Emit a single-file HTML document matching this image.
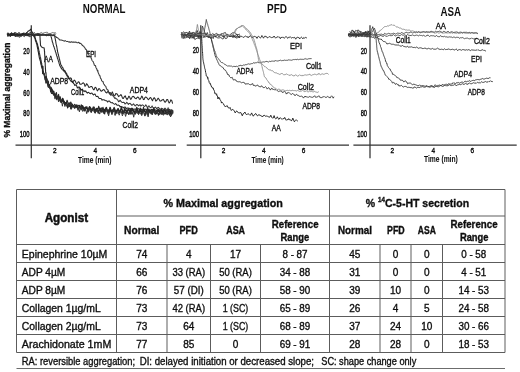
<!DOCTYPE html>
<html><head><meta charset="utf-8"><title>Platelet aggregation</title>
<style>
html,body{margin:0;padding:0;background:#fff;width:520px;height:372px;overflow:hidden}
svg{display:block;will-change:transform}
text{font-family:"Liberation Sans",sans-serif}
</style></head><body>
<svg width="520" height="372" viewBox="0 0 520 372" fill="#111">
<defs><filter id="soft" x="0" y="0" width="100%" height="100%"><feGaussianBlur stdDeviation="0.3"/></filter></defs>
<rect width="520" height="372" fill="#fff"/>
<g filter="url(#soft)">
<g id="charts">
<line x1="31.3" y1="25.3" x2="31.3" y2="158.3" stroke="#333" stroke-width="1.25"/>
<line x1="15.5" y1="145.1" x2="176.0" y2="145.1" stroke="#333" stroke-width="1.25"/>
<text x="29.60" y="54.20" font-size="8.3" stroke="#111" stroke-width="0.45" text-anchor="end" textLength="6.30" lengthAdjust="spacingAndGlyphs">20</text>
<text x="29.60" y="74.80" font-size="8.3" stroke="#111" stroke-width="0.45" text-anchor="end" textLength="6.30" lengthAdjust="spacingAndGlyphs">40</text>
<text x="29.60" y="95.50" font-size="8.3" stroke="#111" stroke-width="0.45" text-anchor="end" textLength="6.30" lengthAdjust="spacingAndGlyphs">60</text>
<text x="29.60" y="116.00" font-size="8.3" stroke="#111" stroke-width="0.45" text-anchor="end" textLength="6.30" lengthAdjust="spacingAndGlyphs">80</text>
<text x="29.60" y="137.10" font-size="8.3" stroke="#111" stroke-width="0.45" text-anchor="end" textLength="9.80" lengthAdjust="spacingAndGlyphs">100</text>
<text x="54.70" y="153.30" font-size="7.8" stroke="#111" stroke-width="0.4" text-anchor="middle" textLength="3.60" lengthAdjust="spacingAndGlyphs">2</text>
<text x="95.30" y="153.30" font-size="7.8" stroke="#111" stroke-width="0.4" text-anchor="middle" textLength="3.60" lengthAdjust="spacingAndGlyphs">4</text>
<text x="134.90" y="153.30" font-size="7.8" stroke="#111" stroke-width="0.4" text-anchor="middle" textLength="3.60" lengthAdjust="spacingAndGlyphs">6</text>
<text x="78.00" y="162.60" font-size="8.2" stroke="#111" stroke-width="0.05" font-weight="bold" textLength="33.40" lengthAdjust="spacingAndGlyphs">Time (min)</text>
<text x="82.80" y="13.20" font-size="12.9" font-weight="bold" textLength="42.70" lengthAdjust="spacingAndGlyphs">NORMAL</text>
<text x="9.90" y="137.60" font-size="9.1" stroke="#111" stroke-width="0.35" font-weight="bold" textLength="95.00" lengthAdjust="spacingAndGlyphs" transform="rotate(-90 9.90 137.60)">% Maximal aggregation</text>
<line x1="200.8" y1="25.3" x2="200.8" y2="158.3" stroke="#333" stroke-width="1.25"/>
<line x1="186.7" y1="145.1" x2="349.0" y2="145.1" stroke="#333" stroke-width="1.25"/>
<text x="199.00" y="53.00" font-size="8.3" stroke="#111" stroke-width="0.45" text-anchor="end" textLength="6.30" lengthAdjust="spacingAndGlyphs">20</text>
<text x="199.00" y="73.90" font-size="8.3" stroke="#111" stroke-width="0.45" text-anchor="end" textLength="6.30" lengthAdjust="spacingAndGlyphs">40</text>
<text x="199.00" y="94.80" font-size="8.3" stroke="#111" stroke-width="0.45" text-anchor="end" textLength="6.30" lengthAdjust="spacingAndGlyphs">60</text>
<text x="199.00" y="115.80" font-size="8.3" stroke="#111" stroke-width="0.45" text-anchor="end" textLength="6.30" lengthAdjust="spacingAndGlyphs">80</text>
<text x="199.00" y="136.80" font-size="8.3" stroke="#111" stroke-width="0.45" text-anchor="end" textLength="9.80" lengthAdjust="spacingAndGlyphs">100</text>
<text x="223.50" y="153.30" font-size="7.8" stroke="#111" stroke-width="0.4" text-anchor="middle" textLength="3.60" lengthAdjust="spacingAndGlyphs">2</text>
<text x="263.80" y="153.30" font-size="7.8" stroke="#111" stroke-width="0.4" text-anchor="middle" textLength="3.60" lengthAdjust="spacingAndGlyphs">4</text>
<text x="303.50" y="153.30" font-size="7.8" stroke="#111" stroke-width="0.4" text-anchor="middle" textLength="3.60" lengthAdjust="spacingAndGlyphs">6</text>
<text x="251.40" y="162.60" font-size="8.2" stroke="#111" stroke-width="0.05" font-weight="bold" textLength="32.30" lengthAdjust="spacingAndGlyphs">Time (min)</text>
<text x="267.10" y="13.00" font-size="12.6" font-weight="bold" textLength="19.90" lengthAdjust="spacingAndGlyphs">PFD</text>
<line x1="370.0" y1="25.3" x2="370.0" y2="158.3" stroke="#333" stroke-width="1.25"/>
<line x1="353.4" y1="145.1" x2="516.7" y2="145.1" stroke="#333" stroke-width="1.25"/>
<text x="367.00" y="53.50" font-size="8.3" stroke="#111" stroke-width="0.45" text-anchor="end" textLength="6.30" lengthAdjust="spacingAndGlyphs">20</text>
<text x="367.00" y="74.20" font-size="8.3" stroke="#111" stroke-width="0.45" text-anchor="end" textLength="6.30" lengthAdjust="spacingAndGlyphs">40</text>
<text x="367.00" y="94.80" font-size="8.3" stroke="#111" stroke-width="0.45" text-anchor="end" textLength="6.30" lengthAdjust="spacingAndGlyphs">60</text>
<text x="367.00" y="115.80" font-size="8.3" stroke="#111" stroke-width="0.45" text-anchor="end" textLength="6.30" lengthAdjust="spacingAndGlyphs">80</text>
<text x="367.00" y="136.80" font-size="8.3" stroke="#111" stroke-width="0.45" text-anchor="end" textLength="9.80" lengthAdjust="spacingAndGlyphs">100</text>
<text x="392.20" y="153.30" font-size="7.8" stroke="#111" stroke-width="0.4" text-anchor="middle" textLength="3.60" lengthAdjust="spacingAndGlyphs">2</text>
<text x="433.40" y="153.30" font-size="7.8" stroke="#111" stroke-width="0.4" text-anchor="middle" textLength="3.60" lengthAdjust="spacingAndGlyphs">4</text>
<text x="472.40" y="153.30" font-size="7.8" stroke="#111" stroke-width="0.4" text-anchor="middle" textLength="3.60" lengthAdjust="spacingAndGlyphs">6</text>
<text x="424.00" y="162.30" font-size="8.2" stroke="#111" stroke-width="0.05" font-weight="bold" textLength="33.80" lengthAdjust="spacingAndGlyphs">Time (min)</text>
<text x="440.40" y="15.60" font-size="12.3" font-weight="bold" textLength="20.60" lengthAdjust="spacingAndGlyphs">ASA</text>
<text x="86.10" y="56.50" font-size="8.2" stroke="#111" stroke-width="0.35" textLength="10.00" lengthAdjust="spacingAndGlyphs">EPI</text>
<text x="44.10" y="62.40" font-size="8.2" stroke="#111" stroke-width="0.35" textLength="8.90" lengthAdjust="spacingAndGlyphs">AA</text>
<text x="50.30" y="83.70" font-size="8.2" stroke="#111" stroke-width="0.35" textLength="17.80" lengthAdjust="spacingAndGlyphs">ADP8</text>
<text x="71.00" y="95.20" font-size="8.2" stroke="#111" stroke-width="0.35" textLength="13.30" lengthAdjust="spacingAndGlyphs">Coll1</text>
<text x="129.80" y="92.60" font-size="8.2" stroke="#111" stroke-width="0.35" textLength="18.20" lengthAdjust="spacingAndGlyphs">ADP4</text>
<text x="122.60" y="128.40" font-size="8.2" stroke="#111" stroke-width="0.35" textLength="15.40" lengthAdjust="spacingAndGlyphs">Coll2</text>
<text x="290.00" y="49.00" font-size="8.2" stroke="#111" stroke-width="0.35" textLength="12.00" lengthAdjust="spacingAndGlyphs">EPI</text>
<text x="306.00" y="68.50" font-size="8.2" stroke="#111" stroke-width="0.35" textLength="16.00" lengthAdjust="spacingAndGlyphs">Coll1</text>
<text x="236.50" y="74.00" font-size="8.2" stroke="#111" stroke-width="0.35" textLength="16.90" lengthAdjust="spacingAndGlyphs">ADP4</text>
<text x="297.70" y="90.20" font-size="8.2" stroke="#111" stroke-width="0.35" textLength="16.30" lengthAdjust="spacingAndGlyphs">Coll2</text>
<text x="302.50" y="109.40" font-size="8.2" stroke="#111" stroke-width="0.35" textLength="17.50" lengthAdjust="spacingAndGlyphs">ADP8</text>
<text x="271.70" y="131.00" font-size="8.2" stroke="#111" stroke-width="0.35" textLength="9.10" lengthAdjust="spacingAndGlyphs">AA</text>
<text x="435.70" y="28.70" font-size="8.2" stroke="#111" stroke-width="0.35" textLength="10.30" lengthAdjust="spacingAndGlyphs">AA</text>
<text x="473.90" y="43.50" font-size="8.2" stroke="#111" stroke-width="0.35" textLength="15.90" lengthAdjust="spacingAndGlyphs">Coll2</text>
<text x="395.70" y="43.00" font-size="8.2" stroke="#111" stroke-width="0.35" textLength="15.10" lengthAdjust="spacingAndGlyphs">Coll1</text>
<text x="471.00" y="61.80" font-size="8.2" stroke="#111" stroke-width="0.35" textLength="11.00" lengthAdjust="spacingAndGlyphs">EPI</text>
<text x="454.00" y="76.70" font-size="8.2" stroke="#111" stroke-width="0.35" textLength="18.00" lengthAdjust="spacingAndGlyphs">ADP4</text>
<text x="467.70" y="95.00" font-size="8.2" stroke="#111" stroke-width="0.35" textLength="17.10" lengthAdjust="spacingAndGlyphs">ADP8</text>
<polyline points="7.9,32.4 9.4,34.8 10.6,33.9 11.6,32.5 12.6,34.0 13.6,34.9 14.4,32.4 15.3,34.3 16.4,33.3 17.5,33.8 18.6,32.5 19.7,32.8 20.6,34.4 22.0,33.9 23.5,33.1 24.6,33.2 25.7,33.9 26.5,33.3 27.7,32.9 28.6,34.1 29.4,33.6 30.3,31.9 31.0,33.4" fill="none" stroke="#303030" stroke-width="0.9" stroke-linejoin="round"/>
<polyline points="7.1,33.1 8.4,34.9 9.5,34.7 10.7,34.2 12.2,33.6 13.7,34.8 15.1,32.6 15.9,32.7 17.0,35.6 18.5,35.3 19.4,34.9 20.8,35.2 22.3,33.0 23.2,35.1 24.6,35.5 25.7,35.4 26.7,35.7 28.2,33.7 29.0,34.4 30.4,33.7 31.0,34.2" fill="none" stroke="#303030" stroke-width="0.9" stroke-linejoin="round"/>
<polyline points="7.4,36.0 8.3,36.4 9.3,34.1 10.2,36.5 11.7,34.4 12.6,35.5 14.1,33.4 15.4,36.1 16.6,35.2 18.0,34.2 19.0,35.5 20.3,35.1 21.3,36.4 22.4,35.6 23.9,34.7 24.7,34.1 25.6,33.9 26.5,34.5 27.6,34.8 28.9,35.6 30.2,34.6 31.0,35.0" fill="none" stroke="#303030" stroke-width="0.9" stroke-linejoin="round"/>
<polyline points="7.8,34.6 9.1,35.2 10.4,36.6 11.4,35.6 12.6,35.2 13.4,34.4 15.0,36.6 16.1,36.3 17.2,36.5 18.7,36.7 19.9,37.3 21.4,34.4 22.6,35.6 23.6,36.2 24.5,36.6 26.0,34.4 27.3,35.1 28.6,36.4 30.2,36.8 31.0,35.8" fill="none" stroke="#303030" stroke-width="0.9" stroke-linejoin="round"/>
<polyline points="32.1,34.4 32.9,34.5 34.3,32.3 35.8,34.1 36.7,34.5 37.8,33.3 39.1,33.9 40.5,32.9 41.7,32.5 42.7,33.4 43.6,33.0 45.1,32.6 46.2,32.3 47.6,32.4 48.5,34.0 49.7,33.5 51.0,33.4 52.1,32.6 53.0,32.7 54.0,33.0 55.5,32.7 56.0,33.4" fill="none" stroke="#555" stroke-width="0.8" stroke-linejoin="round"/>
<polyline points="31.4,33.7 32.9,35.7 34.3,35.7 35.5,34.5 36.6,35.0 37.6,34.7 38.7,35.0 40.2,35.0 41.1,34.8 42.5,34.7 43.4,33.6 44.6,35.1 45.8,35.1 47.0,35.4 48.0,35.4 49.4,33.7 50.4,34.1 51.8,34.9 52.7,35.2 53.7,35.5 54.7,33.6 55.8,34.5 56.0,34.6" fill="none" stroke="#555" stroke-width="0.8" stroke-linejoin="round"/>
<polyline points="181.2,33.0 182.2,33.4 183.4,31.8 184.7,32.7 185.6,32.5 186.9,32.5 188.4,33.5 189.5,31.1 190.4,33.9 191.7,32.9 192.9,32.4 193.9,32.5 194.8,33.0 196.1,33.2 197.1,30.4 198.1,33.3 199.4,33.6 200.5,31.9 201.0,32.4" fill="none" stroke="#303030" stroke-width="0.9" stroke-linejoin="round"/>
<polyline points="181.3,32.3 182.5,34.3 183.7,34.0 184.8,34.5 186.3,35.3 187.6,33.6 189.2,33.4 190.5,35.5 191.8,33.2 193.2,34.2 194.8,34.3 196.0,36.0 197.2,33.2 198.8,35.8 199.7,31.6 201.0,33.7" fill="none" stroke="#303030" stroke-width="0.9" stroke-linejoin="round"/>
<polyline points="182.3,34.4 183.3,35.9 184.9,33.6 186.0,35.8 187.0,34.6 187.9,34.9 188.9,33.0 190.0,33.3 190.9,33.3 192.1,34.1 193.4,34.6 194.4,33.5 195.5,36.2 196.4,34.8 197.9,36.6 199.0,36.6 200.4,33.7 201.0,35.0" fill="none" stroke="#303030" stroke-width="0.9" stroke-linejoin="round"/>
<polyline points="181.3,37.7 182.4,37.9 183.9,38.3 185.1,33.9 186.1,35.0 187.5,37.3 189.0,37.3 190.6,37.0 191.7,37.9 192.8,37.6 194.1,38.1 195.0,34.8 196.6,34.6 197.7,36.8 198.9,38.1 200.5,35.5 201.0,36.3" fill="none" stroke="#303030" stroke-width="0.9" stroke-linejoin="round"/>
<polyline points="182.4,37.4 183.4,35.9 184.2,38.0 185.2,37.9 186.7,37.5 188.3,35.5 189.7,38.8 191.3,35.3 192.5,37.9 193.8,37.5 194.8,39.5 196.3,38.6 197.9,37.9 198.7,38.5 199.6,38.8 200.9,36.2 201.0,37.6" fill="none" stroke="#303030" stroke-width="0.9" stroke-linejoin="round"/>
<polyline points="194.0,35.0 194.4,34.2 194.8,33.3 195.2,32.5 195.7,31.7 196.1,30.8 196.5,30.0 196.7,29.1 196.8,28.2 196.9,27.2 197.1,26.3 197.2,25.4 197.4,24.5 197.6,25.3 197.7,26.1 197.9,26.9 198.0,27.6 198.2,28.4 198.3,29.2 198.5,30.0 198.8,30.8 199.0,31.7 199.2,32.5 199.5,33.3 199.8,34.2 200.0,35.0" fill="none" stroke="#777" stroke-width="0.8" stroke-linejoin="round"/>
<polyline points="203.4,35.5 204.8,33.2 205.9,35.0 207.3,32.5 208.3,35.6 209.2,34.8 210.2,34.7 211.7,34.5 212.8,33.6 214.1,34.7 215.3,34.1 216.5,33.3 217.4,34.4 218.3,34.6 219.7,35.4 220.8,33.9 222.3,33.7 223.9,33.1 225.4,32.5 226.7,35.3 227.9,34.7 229.5,36.0 230.4,34.3 231.2,33.8 232.1,33.0 233.4,32.7 234.4,32.4 235.8,33.3 236.7,34.6 238.1,34.7 239.3,34.3 240.0,34.2" fill="none" stroke="#3a3a3a" stroke-width="0.9" stroke-linejoin="round"/>
<polyline points="202.5,37.0 203.8,37.1 205.3,37.0 206.5,35.9 207.9,36.1 208.8,37.3 209.7,35.7 210.9,34.3 212.1,36.1 213.6,36.2 214.6,36.0 216.2,36.3 217.7,34.0 219.0,34.8 220.0,35.2 220.9,34.3 221.9,34.8 222.9,36.9 223.7,34.7 224.6,35.8 225.6,35.9 226.6,34.7 227.7,34.3 229.3,36.0 230.4,36.0 231.9,35.8 233.0,34.8 234.1,36.8 235.4,35.0 237.0,34.5 238.0,36.8 239.6,35.7 240.0,35.8" fill="none" stroke="#3a3a3a" stroke-width="0.9" stroke-linejoin="round"/>
<polyline points="202.8,37.1 203.7,36.9 205.2,35.7 206.1,36.2 207.6,36.7 208.9,38.0 209.7,37.2 210.6,38.5 211.8,36.9 213.2,38.6 214.1,35.9 215.2,36.7 216.3,37.1 217.9,38.0 219.5,37.8 220.4,37.6 221.4,37.7 222.3,39.0 223.3,38.8 224.3,36.3 225.3,38.6 226.8,38.3 228.0,36.1 229.0,35.7 230.6,36.1 231.9,35.6 233.0,37.8 233.9,35.9 235.4,36.6 236.2,38.1 237.8,37.6 238.6,37.1 239.9,36.5 240.0,37.4" fill="none" stroke="#3a3a3a" stroke-width="0.9" stroke-linejoin="round"/>
<polyline points="349.5,31.6 350.8,32.6 351.8,30.3 353.1,30.4 354.2,33.2 355.7,30.4 356.6,30.8 358.0,30.1 359.0,30.4 359.9,31.9 360.9,31.5 362.2,32.6 363.4,32.8 364.6,33.0 365.6,31.3 366.9,33.4 368.2,31.7 369.2,31.0 370.0,31.8" fill="none" stroke="#303030" stroke-width="0.9" stroke-linejoin="round"/>
<polyline points="349.5,34.2 351.0,32.9 352.4,32.1 353.5,31.5 354.7,31.9 355.6,34.3 356.4,33.9 357.8,31.3 359.0,34.6 360.6,33.0 362.0,33.6 363.0,33.0 364.3,32.4 365.8,32.6 367.2,31.2 368.3,31.2 369.6,34.1 370.0,32.8" fill="none" stroke="#303030" stroke-width="0.9" stroke-linejoin="round"/>
<polyline points="348.8,34.2 349.8,33.4 351.1,34.3 352.2,33.7 353.3,34.0 354.6,33.2 356.0,35.1 357.2,35.5 358.2,35.3 359.2,33.3 360.6,32.1 361.9,35.1 363.5,34.5 364.6,33.2 365.9,32.2 366.7,35.2 368.0,32.6 369.1,33.0 370.0,33.8" fill="none" stroke="#303030" stroke-width="0.9" stroke-linejoin="round"/>
<polyline points="348.4,35.6 349.8,34.1 350.8,34.9 351.9,35.1 353.0,35.9 354.1,33.5 355.6,36.2 356.9,35.0 358.4,36.4 359.2,34.8 360.0,34.2 361.0,34.7 362.4,36.1 363.4,33.0 365.0,35.8 366.2,33.4 367.1,36.4 368.3,36.1 369.7,35.7 370.0,34.8" fill="none" stroke="#303030" stroke-width="0.9" stroke-linejoin="round"/>
<polyline points="348.4,34.9 349.5,36.8 351.0,36.7 352.2,35.7 353.2,36.4 354.5,35.9 355.9,37.5 357.4,34.4 358.5,36.2 359.8,35.0 361.4,35.7 362.8,34.2 363.8,34.1 365.2,35.9 366.8,36.2 367.9,35.3 369.0,34.7 369.8,36.3 370.0,35.8" fill="none" stroke="#303030" stroke-width="0.9" stroke-linejoin="round"/>
<polyline points="7.0,34.0 7.8,35.0 8.6,34.9 9.4,34.2 10.2,34.6 11.1,34.5 11.9,34.8 12.7,35.0 13.5,34.1 14.3,34.0 15.1,35.2 15.9,34.6 16.8,35.1 17.6,34.0 18.4,34.7 19.2,35.1 20.0,34.4 20.9,35.3 21.7,35.0 22.6,33.6 23.4,33.4 24.3,34.0 25.1,34.4 26.0,33.4 26.7,32.6 27.3,32.3 28.0,31.2 28.6,30.9 29.3,30.7 29.9,30.2 30.6,29.2 31.0,29.9 31.4,30.6 31.8,31.6 32.2,32.1 32.6,32.4 33.0,34.3 33.5,34.3 33.8,35.2 34.0,35.3 34.3,37.2 34.5,37.8 34.8,37.6 35.1,38.7 35.3,40.0 35.6,40.8 35.9,41.9 36.1,41.9 36.4,43.3 36.6,43.9 36.9,44.1 37.0,45.3 37.2,46.5 37.4,47.3 37.5,47.6 37.6,48.6 37.8,48.6 37.9,49.7 38.1,51.3 38.2,51.5 38.4,52.0 38.5,53.3 38.7,54.4 38.8,55.1 39.0,55.5 39.1,56.4 39.3,57.3 39.5,58.5 39.7,58.9 39.9,59.6 40.1,60.5 40.3,60.7 40.5,61.5 40.7,63.2 40.9,64.4 41.1,63.5 41.3,65.4 41.5,66.6 41.7,67.5 41.9,67.8 42.1,68.7 42.4,69.0 42.6,73.7 42.8,71.3 43.0,72.0 43.2,72.4 43.4,73.1 43.7,74.5 43.9,74.3 44.1,73.8 44.4,76.4 44.8,77.3 45.1,77.2 45.4,78.2 45.8,83.0 46.1,80.7 46.4,81.6 46.7,80.6 47.1,83.1 47.4,83.0 47.8,85.2 48.2,85.0 48.6,85.4 49.0,86.4 49.4,85.4 49.8,87.9 50.2,88.2 50.6,92.0 51.1,90.6 51.6,90.1 52.0,89.0 52.5,92.3 53.0,92.4 53.5,95.2 54.0,94.3 54.4,94.8 54.9,94.0 55.4,96.7 56.0,96.2 56.7,99.6 57.4,97.4 58.0,97.3 58.6,94.4 59.3,99.1 59.9,100.0 60.6,102.1 61.2,100.3 61.9,101.2 62.6,98.3 63.3,101.5 64.0,101.9 64.7,104.4 65.5,102.7 66.2,102.4 66.9,104.0 67.6,108.0 68.3,104.8 69.1,102.6 69.9,104.4 70.7,108.7 71.5,105.6 72.3,104.0 73.2,106.5 74.0,106.9 74.8,107.0 75.6,106.1 76.4,107.5 77.2,105.1 78.0,107.7 78.9,108.4 79.7,107.2 80.5,107.7 81.3,104.7 82.1,108.4 83.0,109.3 83.8,108.7 84.6,108.0 85.4,107.1 86.3,108.2 87.1,108.2 87.9,112.0 88.7,108.7 89.5,106.5 90.4,108.6 91.2,112.5 92.0,109.4 92.8,108.9 93.6,109.2 94.4,109.2 95.2,113.0 96.0,109.9 96.8,108.3 97.6,109.1 98.4,113.0 99.2,110.0 100.0,108.0 100.8,109.6 101.6,112.1 102.4,109.9 103.2,109.3 104.0,109.6 104.8,111.0 105.6,110.2 106.4,107.2 107.2,109.6 108.0,113.9 108.8,109.6 109.6,110.8 110.4,107.7 111.2,110.8 112.0,114.1 112.8,109.6 113.6,110.8 114.4,108.0 115.2,110.6 116.0,113.0 116.8,110.6 117.6,109.8 118.4,108.6 119.2,111.0 120.0,111.8 120.8,109.8 121.6,109.5 122.4,110.3 123.2,113.1 124.1,110.4 124.9,110.0 125.7,110.6 126.5,113.5 127.3,110.9 128.1,109.3 128.9,110.5 129.7,111.2 130.5,111.2 131.4,110.1 132.2,108.3 133.0,111.3 133.8,111.0 134.6,113.4 135.4,110.9 136.2,111.3 137.0,109.4 137.8,110.4 138.6,113.9 139.5,111.1 140.3,108.0 141.1,110.2 141.9,112.8 142.7,111.5 143.5,107.2 144.3,111.1 145.1,110.8 145.9,114.6 146.8,110.9 147.6,107.4 148.4,111.6 149.2,112.2 150.0,110.7 150.8,110.1 151.6,110.9 152.5,114.4 153.3,110.7 154.1,108.7 154.9,110.8 155.8,111.5 156.6,113.9 157.4,111.7 158.2,109.7 159.0,110.6 159.9,113.0 160.7,111.9 161.5,109.8 162.3,111.4 163.1,113.5 164.0,110.6 164.8,109.4 165.6,111.7 166.4,113.2 167.2,111.0 168.1,107.8 168.9,111.9 169.7,115.2 170.5,111.3 171.4,110.9 172.2,111.7 173.0,113.1" fill="none" stroke="#262626" stroke-width="1.1" stroke-linejoin="round"/>
<polyline points="7.0,35.8 7.8,35.8 8.6,34.6 9.4,34.6 10.2,35.7 11.1,35.5 11.9,35.4 12.7,34.9 13.5,35.3 14.3,35.3 15.1,35.3 15.9,34.7 16.8,35.1 17.6,35.1 18.4,35.5 19.2,35.9 20.0,35.8 20.8,35.3 21.6,35.1 22.4,34.9 23.2,34.6 24.1,34.5 24.9,35.2 25.7,34.9 26.5,35.0 27.3,35.7 28.1,35.2 28.9,35.3 29.8,34.8 30.6,34.5 31.4,35.0 32.2,34.7 33.0,35.2 33.8,36.2 34.6,36.0 34.9,36.1 35.1,37.9 35.4,38.6 35.6,39.3 35.9,40.3 36.2,40.9 36.4,41.7 36.7,41.9 37.0,43.5 37.2,44.3 37.5,44.0 37.7,45.6 38.0,46.3 38.2,46.7 38.3,47.6 38.5,48.4 38.7,49.8 38.8,50.0 39.0,51.3 39.2,51.4 39.3,52.9 39.5,53.8 39.7,53.9 39.8,54.9 40.0,56.2 40.2,56.7 40.3,57.2 40.5,57.6 40.7,58.6 40.8,59.9 41.0,59.9 41.2,61.8 41.3,61.7 41.5,63.4 41.7,63.3 41.8,65.0 42.0,65.5 42.2,66.0 42.3,66.8 42.5,67.8 42.7,68.5 42.8,68.9 43.0,66.4 43.2,71.0 43.5,72.0 43.8,73.0 44.0,73.5 44.2,74.2 44.5,74.4 44.8,78.1 45.0,76.0 45.2,77.7 45.5,78.3 45.9,78.6 46.2,76.6 46.5,79.7 46.9,80.5 47.2,82.4 47.6,82.4 48.0,86.8 48.3,83.9 48.6,85.0 49.0,86.3 49.5,84.6 50.0,87.8 50.5,88.7 51.0,89.3 51.5,91.9 52.0,89.9 52.5,90.8 53.0,91.1 53.5,91.1 54.0,93.6 54.6,93.7 55.2,94.6 55.8,94.2 56.4,92.5 57.0,96.0 57.6,97.2 58.2,98.2 58.8,97.9 59.4,98.8 60.0,96.5 60.7,98.7 61.4,102.3 62.1,99.8 62.9,98.9 63.6,101.0 64.3,101.1 65.0,104.6 65.7,102.5 66.4,102.6 67.1,100.2 67.9,102.9 68.6,104.1 69.3,106.5 70.0,104.2 70.8,102.0 71.6,104.3 72.4,105.5 73.2,106.4 73.9,105.4 74.7,104.3 75.5,105.6 76.3,105.4 77.1,107.5 77.9,106.3 78.7,105.4 79.5,106.1 80.3,107.1 81.1,109.8 81.8,107.7 82.6,105.5 83.4,108.0 84.2,111.1 85.0,108.4 85.8,107.2 86.6,108.1 87.4,108.1 88.2,111.7 89.0,107.8 89.8,107.3 90.6,107.8 91.5,109.1 92.3,110.3 93.1,108.3 93.9,106.9 94.7,108.2 95.5,109.5 96.3,111.0 97.1,108.6 97.9,109.0 98.7,106.2 99.5,109.3 100.3,111.4 101.1,109.8 101.9,107.6 102.7,109.7 103.5,113.1 104.4,109.3 105.2,109.8 106.0,107.8 106.8,109.6 107.6,110.5 108.4,111.8 109.2,110.5 110.0,107.2 110.8,110.3 111.6,110.6 112.4,112.3 113.2,109.7 114.1,107.4 114.9,109.7 115.7,112.3 116.5,110.2 117.3,110.2 118.1,110.2 118.9,110.5 119.7,111.9 120.5,110.0 121.4,107.0 122.2,109.9 123.0,113.3 123.8,110.9 124.6,108.3 125.4,110.5 126.2,109.9 127.0,113.4 127.8,110.4 128.6,108.7 129.5,110.6 130.3,114.2 131.1,110.4 131.9,111.1 132.7,109.7 133.5,111.0 134.3,110.9 135.1,112.8 135.9,110.5 136.8,107.2 137.6,110.4 138.4,112.3 139.2,110.4 140.0,109.1 140.8,111.6 141.6,110.9 142.4,112.6 143.2,110.7 144.0,109.7 144.8,111.5 145.6,111.5 146.4,112.6 147.2,111.6 148.0,111.1 148.9,109.0 149.7,111.7 150.5,111.5 151.3,113.4 152.1,111.0 152.9,110.7 153.7,107.9 154.5,110.8 155.3,112.3 156.1,111.0 156.9,111.8 157.7,109.9 158.5,111.7 159.3,111.0 160.1,114.0 160.9,110.8 161.7,109.1 162.5,111.0 163.3,113.3 164.1,111.1 165.0,110.7 165.8,111.9 166.6,113.9 167.4,111.9 168.2,111.8 169.0,109.5 169.8,111.4 170.6,111.2 171.4,113.8 172.2,112.2 173.0,110.2" fill="none" stroke="#262626" stroke-width="1.1" stroke-linejoin="round"/>
<polyline points="7.0,33.6 7.8,34.1 8.6,33.8 9.4,34.2 10.2,34.2 11.0,33.4 11.8,33.4 12.6,34.5 13.4,33.7 14.2,33.7 15.0,34.8 15.8,34.0 16.6,34.6 17.4,34.1 18.2,34.3 19.0,33.6 19.8,34.3 20.6,34.6 21.4,34.2 22.2,34.5 23.0,34.4 23.8,33.5 24.6,34.5 25.4,34.3 26.2,33.9 27.0,33.5 27.8,34.7 28.6,34.2 29.4,34.5 30.2,34.7 31.0,34.5 31.8,34.8 32.6,34.1 33.4,34.7 34.2,34.2 35.0,34.9 35.8,34.8 36.6,33.7 37.4,33.8 38.2,33.9 39.0,34.9 39.8,34.2 39.9,35.3 39.9,35.7 40.0,36.8 40.0,37.5 40.1,38.3 40.1,39.4 40.2,40.3 40.3,41.6 40.3,42.1 40.4,43.3 40.4,44.0 40.5,45.0 40.5,45.4 40.6,45.5 41.5,46.9 42.4,47.5 43.2,47.8 44.1,47.7 44.2,48.7 44.3,48.8 44.4,50.5 44.4,50.9 44.5,51.3 44.6,51.8 44.6,53.7 44.7,54.7 44.7,54.2 44.8,56.1 44.8,56.3 44.9,56.8 44.9,57.8 44.9,59.2 45.0,60.2 45.0,59.8 45.1,61.4 45.1,61.5 45.2,63.2 45.2,63.5 45.2,65.0 45.3,66.0 45.3,66.1 45.4,67.6 45.4,67.5 45.4,68.0 45.5,69.5 45.5,69.5 45.6,70.6 45.6,71.7 45.7,72.7 45.7,72.9 45.9,73.6 46.0,72.5 46.2,76.4 46.4,76.6 46.5,77.7 46.7,78.4 46.8,79.8 47.0,79.9 47.3,83.6 47.7,81.6 48.0,81.6 48.3,81.0 48.7,84.1 49.0,84.8 49.3,85.7 49.7,86.5 50.0,88.7 50.4,88.4 50.8,88.4 51.2,87.4 51.7,89.7 52.1,90.3 52.5,93.7 52.9,92.3 53.3,92.3 53.8,91.3 54.2,94.4 54.6,94.5 55.0,98.8 55.6,95.6 56.3,96.8 56.9,96.1 57.5,97.7 58.2,98.7 58.8,101.0 59.5,99.5 60.1,98.3 60.7,100.8 61.4,102.5 62.0,101.4 62.7,98.4 63.5,102.9 64.2,102.6 64.9,106.3 65.6,104.0 66.4,102.5 67.1,104.0 67.8,107.6 68.5,104.5 69.3,105.9 70.0,104.4 70.8,105.5 71.6,108.2 72.4,106.5 73.2,105.7 74.0,106.4 74.8,108.3 75.6,106.6 76.4,104.9 77.2,107.9 78.0,110.1 78.8,108.0 79.6,105.4 80.4,107.7 81.2,109.1 82.0,107.6 82.8,107.6 83.6,107.0 84.4,108.3 85.2,110.6 86.0,108.6 86.8,106.6 87.6,109.4 88.4,110.2 89.2,109.5 90.0,107.1 90.8,109.5 91.6,111.3 92.4,110.0 93.2,107.0 94.1,109.2 94.9,112.8 95.7,109.8 96.5,108.6 97.3,109.6 98.1,113.1 98.9,110.5 99.7,108.3 100.5,109.7 101.4,111.7 102.2,110.0 103.0,107.3 103.8,110.1 104.6,114.0 105.4,110.9 106.2,108.3 107.0,111.2 107.8,111.3 108.6,112.5 109.5,111.6 110.3,108.5 111.1,111.6 111.9,112.7 112.7,111.3 113.5,111.5 114.3,110.4 115.1,111.9 115.9,113.8 116.8,111.9 117.6,108.8 118.4,112.4 119.2,113.0 120.0,111.7 120.8,110.9 121.6,112.3 122.4,113.5 123.2,112.6 124.0,111.1 124.8,112.1 125.6,113.1 126.4,112.5 127.2,110.7 128.0,112.1 128.8,114.5 129.6,112.5 130.4,109.0 131.2,112.2 132.0,114.2 132.8,112.9 133.7,110.6 134.5,111.8 135.3,114.1 136.1,112.8 136.9,111.4 137.7,111.8 138.5,114.2 139.3,112.6 140.1,110.3 140.9,112.0 141.7,115.1 142.5,111.9 143.3,109.8 144.1,113.0 144.9,115.7 145.7,112.8 146.5,110.0 147.3,112.2 148.1,115.2 148.9,112.0 149.7,110.0 150.5,112.7 151.3,113.9 152.1,113.2 152.9,112.1 153.7,109.6 154.5,112.8 155.3,114.3 156.1,112.2 156.9,111.0 157.7,113.0 158.5,115.3 159.3,112.1 160.2,110.9 161.0,112.5 161.8,114.4 162.6,113.3 163.4,111.6 164.2,113.2 165.0,114.1 165.8,113.2 166.6,112.2 167.4,112.8 168.2,114.1 169.0,112.6 169.8,109.4 170.6,113.6 171.4,115.3 172.2,113.7 173.0,110.8" fill="none" stroke="#262626" stroke-width="1.1" stroke-linejoin="round"/>
<polyline points="44.0,73.2 44.4,76.1 44.8,77.3 45.1,80.2 45.5,78.3 45.9,79.6 46.2,79.9 46.6,81.5 47.0,78.7 47.4,82.0 47.7,83.1 48.1,83.6 48.5,87.7 48.8,85.9 49.2,86.4 49.5,86.4 49.9,86.5 50.3,88.7 50.6,89.0 51.0,90.3 51.5,94.0 51.9,91.7 52.4,92.8 52.8,92.6 53.3,92.0 53.7,94.4 54.2,94.9 54.6,95.2 55.1,98.3 55.5,97.4 56.0,97.5 56.6,97.3 57.3,95.7 57.9,98.7 58.5,101.8 59.2,99.5 59.8,99.8 60.5,98.6 61.1,102.1 61.7,101.9 62.4,106.2 63.0,102.6 63.8,103.1 64.5,103.3 65.2,103.7 66.0,104.5 66.8,106.4 67.5,105.0 68.2,106.3 69.0,103.4 69.8,105.7 70.5,107.2 71.2,109.4 72.0,106.9 72.8,105.7 73.6,107.3 74.5,108.4 75.3,107.5 76.1,107.5 76.9,107.2 77.7,108.4 78.5,108.2 79.4,111.8 80.2,108.4 81.0,106.0 81.8,108.9 82.6,111.4 83.5,109.8 84.3,109.9 85.1,109.2 85.9,110.0 86.7,113.7 87.5,110.3 88.4,111.2 89.2,108.4 90.0,111.4 90.8,111.9 91.6,110.4 92.4,110.8 93.2,108.6 94.1,112.1 94.9,112.4 95.7,110.9 96.5,111.6 97.3,109.5 98.1,112.0 98.9,111.9 99.7,114.1 100.5,111.2 101.4,111.5 102.2,110.7 103.0,112.6 103.8,112.5 104.6,112.6 105.4,111.5 106.2,111.2 107.0,112.2 107.8,111.4 108.6,115.8 109.5,112.2 110.3,111.5 111.1,112.1 111.9,114.5 112.7,111.9 113.5,110.0 114.3,113.3 115.1,115.5 115.9,112.8 116.8,112.0 117.6,113.3 118.4,112.8 119.2,115.2 120.0,113.1 120.8,111.0 121.6,112.7 122.4,115.9 123.2,113.7 124.0,111.1 124.8,113.4 125.6,116.4 126.4,113.4 127.2,111.5 128.0,113.8 128.8,114.4 129.6,112.4 130.4,112.4 131.2,112.4 132.0,113.5 132.8,112.5 133.7,117.2 134.5,113.0 135.3,113.9 136.1,110.5 136.9,112.9 137.7,112.9 138.5,114.3 139.3,112.4 140.1,112.5 140.9,114.0 141.7,115.4 142.5,112.5 143.3,111.0 144.1,113.9 144.9,116.1 145.7,113.4 146.5,110.0 147.3,113.1 148.1,116.9 148.9,112.6 149.7,112.6 150.5,111.0 151.3,114.0 152.1,114.1 152.9,112.7 153.7,111.0 154.5,113.0 155.3,114.2 156.1,113.1 156.9,110.2 157.7,113.4 158.5,113.3 159.3,114.7 160.2,113.4 161.0,110.6 161.8,114.2 162.6,113.9 163.4,115.3 164.2,112.7 165.0,112.7 165.8,112.1 166.6,114.0 167.4,115.1 168.2,113.1 169.0,111.5 169.8,114.2 170.6,117.0 171.4,113.2 172.2,110.7 173.0,113.5" fill="none" stroke="#333" stroke-width="1.0" stroke-linejoin="round"/>
<polyline points="31.0,34.3 31.8,34.2 32.6,34.4 33.5,34.2 34.3,34.2 35.1,34.4 35.9,34.8 36.7,34.7 37.5,34.7 38.4,34.3 39.2,34.5 40.0,34.3 40.8,34.2 41.6,34.2 42.4,34.3 43.2,34.8 44.1,34.8 44.9,34.7 45.7,34.7 46.5,34.3 47.3,34.3 48.2,34.6 49.0,34.7 49.8,34.8 50.6,34.8 50.8,35.0 51.0,36.2 51.2,37.1 51.4,37.8 51.6,38.3 51.8,39.4 52.0,39.9 52.2,41.3 52.4,42.1 52.7,42.6 52.9,43.1 53.1,44.4 53.4,44.9 53.6,45.9 53.8,46.6 54.1,47.1 54.3,47.8 54.6,48.7 54.8,49.4 55.0,49.9 55.3,50.8 55.5,52.0 55.7,52.1 56.0,52.9 56.2,54.1 56.4,54.6 56.7,55.6 56.9,56.3 57.2,56.9 57.4,58.2 57.6,58.3 57.9,59.3 58.1,59.9 58.4,61.0 58.6,61.5 58.9,62.3 59.1,63.4 59.3,63.8 59.6,64.8 59.8,65.8 60.1,65.9 60.3,66.6 60.9,67.5 61.5,68.7 62.1,69.3 62.7,69.8 63.3,70.5 64.0,71.1 64.6,72.0 65.3,72.4 65.9,73.6 66.3,74.5 66.7,75.3 67.1,75.9 67.5,76.8 67.9,76.8 68.3,78.5 69.0,78.9 69.8,78.5 70.5,77.8 71.3,78.5 72.0,81.1 72.8,82.1 73.5,81.0 74.3,80.1 75.0,80.7 75.8,82.3 76.7,84.0 77.5,83.0 78.3,81.7 79.2,82.2 80.0,84.3 80.8,84.3 81.7,83.9 82.5,83.3 83.3,82.8 84.2,83.7 85.0,86.3 85.8,85.5 86.5,83.7 87.3,84.4 88.1,85.8 88.8,87.4 89.6,87.2 90.4,86.7 91.2,86.5 91.9,86.6 92.7,88.3 93.5,89.6 94.2,89.6 95.0,87.3 95.8,87.4 96.6,89.0 97.3,90.9 98.1,90.0 98.9,88.6 99.7,88.9 100.6,90.8 101.6,91.2 102.5,90.3 103.5,89.6 104.4,89.9 105.2,91.5 106.0,92.6 106.8,92.9 107.5,91.9 108.3,91.2 109.1,92.6 109.9,94.3 110.7,95.2 111.5,93.4 112.3,91.9 113.1,93.7 113.9,95.7 114.8,95.7 115.8,93.6 116.7,93.7 117.7,94.9 118.6,96.6 119.4,95.9 120.2,95.4 120.9,94.5 121.7,95.9 122.5,98.2 123.3,98.5 124.2,96.9 125.2,95.8 126.1,98.0 127.1,99.6 128.0,98.0 128.8,96.2 129.7,97.1 130.5,99.2 131.3,98.9 132.2,96.9 133.0,96.3 133.8,96.7 134.6,97.7 135.4,98.6 136.2,98.7 137.0,97.5 137.8,97.0 138.6,97.6 139.4,99.2 140.2,99.2 141.0,97.7 141.8,96.1 142.6,97.4 143.4,99.6 144.2,99.4 145.0,97.4 145.8,97.0 146.7,97.6 147.5,98.5 148.3,99.7 149.2,98.9 150.0,97.7 150.8,97.6 151.7,99.5 152.5,100.8 153.3,98.8 154.2,97.7 155.0,98.7 155.8,101.1 156.7,100.5 157.5,99.1 158.3,98.2 159.2,99.5 160.0,100.9 160.8,101.1 161.7,100.3 162.5,99.8 163.4,99.4 164.2,101.1 165.0,102.3 165.9,101.5 166.7,99.6 167.6,99.5 168.4,101.5 169.2,103.0 170.1,101.7 170.9,99.8 171.8,100.6 172.6,103.7" fill="none" stroke="#262626" stroke-width="1.05" stroke-linejoin="round"/>
<polyline points="31.0,35.1 31.8,35.2 32.6,35.3 33.4,35.4 34.3,35.3 35.1,35.4 35.9,34.7 36.7,35.1 37.5,35.5 38.3,35.3 39.1,35.5 40.0,34.9 40.8,35.2 41.6,35.0 42.4,35.3 43.2,35.3 44.0,34.9 44.8,35.1 45.6,35.1 46.5,35.7 47.3,35.6 48.1,35.1 48.9,35.6 49.7,35.1 50.5,35.5 51.3,35.1 52.2,35.0 53.0,35.8 53.8,35.3 54.6,35.3 54.8,36.7 54.9,37.4 55.1,37.7 55.2,39.1 55.4,39.6 55.5,40.5 55.7,40.9 55.8,42.3 56.0,42.9 56.1,43.9 56.3,44.7 56.4,45.0 56.6,45.9 56.7,46.5 56.9,47.3 57.0,48.0 57.2,49.0 57.3,50.1 57.5,50.4 57.6,51.7 57.8,52.3 58.0,53.1 58.2,54.3 58.4,54.8 58.6,55.5 58.8,56.4 59.0,57.4 59.2,57.7 59.4,59.2 59.6,59.3 59.8,60.7 60.0,61.5 60.2,61.7 60.4,63.1 60.6,63.6 60.8,64.6 61.0,64.9 61.5,65.6 61.9,66.4 62.4,67.7 62.9,67.7 63.4,68.9 63.8,69.7 64.3,70.4 64.8,70.6 65.2,71.3 65.7,72.2 66.1,73.1 66.6,73.3 67.0,74.5 67.5,75.2 67.9,76.1 68.3,76.3 68.8,77.9 69.2,78.0 69.6,79.0 70.0,79.7 70.6,80.9 71.2,81.4 71.8,81.5 72.4,82.6 73.0,81.8 73.6,83.6 74.2,84.0 74.8,85.5 75.4,85.0 76.0,84.8 76.7,86.1 77.4,88.0 78.1,87.0 78.8,87.4 79.5,87.1 80.2,88.8 80.8,89.6 81.5,89.4 82.2,89.3 82.9,90.6 83.6,91.2 84.3,90.7 85.0,91.7 85.8,90.9 86.5,92.1 87.3,93.1 88.1,92.3 88.8,92.5 89.6,93.3 90.4,93.8 91.2,93.2 91.9,93.0 92.7,94.1 93.5,95.0 94.2,94.2 95.0,94.0 95.7,95.5 96.3,96.5 97.0,96.6 97.7,96.2 98.4,97.1 99.0,98.4 99.7,98.5 100.5,98.6 101.3,98.8 102.1,100.1 102.8,99.8 103.6,99.7 104.4,100.0 105.2,100.5 106.0,100.7 106.8,100.7 107.5,102.0 108.3,101.3 109.1,100.9 109.9,101.6 110.7,102.4 111.5,102.7 112.3,102.5 113.1,103.4 113.9,103.9 114.7,104.3 115.5,103.5 116.2,104.2 117.0,105.2 117.8,105.3 118.6,105.1 119.4,105.6 120.2,106.9 120.9,106.5 121.7,106.7 122.5,106.9 123.3,107.9 124.2,107.3 125.2,107.0 126.1,108.8 127.1,107.9 128.0,108.2 128.9,108.1 129.8,108.9 130.6,108.8 131.5,108.2 132.4,108.7 133.2,109.4 134.1,109.1 135.0,109.2 135.8,109.0 136.7,110.2 137.5,108.9 138.3,108.6 139.2,109.5 140.0,110.2 140.8,109.7 141.7,109.1 142.5,109.8 143.3,110.2 144.2,109.9 145.0,109.0 145.8,109.5 146.7,110.0 147.5,109.5 148.3,109.8 149.2,109.9 150.0,110.4 150.8,110.1 151.6,109.3 152.4,109.6 153.2,110.9 154.0,109.9 154.8,109.8 155.7,109.9 156.5,110.4 157.3,110.3 158.1,109.4 158.9,110.1 159.7,110.7 160.5,109.8 161.3,109.6 162.1,110.3 162.9,111.0 163.7,110.2 164.5,109.3 165.3,110.0 166.1,111.1 166.9,110.0 167.8,109.6 168.6,110.4 169.4,111.3 170.2,110.1 171.0,110.5 171.8,110.2 172.6,110.9" fill="none" stroke="#262626" stroke-width="1.05" stroke-linejoin="round"/>
<polyline points="31.0,35.2 31.8,35.3 32.6,35.0 33.4,34.8 34.3,34.6 35.1,35.1 35.9,35.0 36.7,35.2 37.5,34.9 38.3,35.2 39.1,34.8 40.0,35.2 40.8,35.2 41.6,34.9 42.4,35.0 43.2,35.1 44.0,34.8 44.8,35.0 45.7,35.2 46.5,34.8 47.3,35.2 48.1,35.1 48.9,35.3 49.7,34.9 50.5,34.7 51.4,35.2 52.2,35.2 53.0,35.0 53.8,34.7 54.4,35.3 55.1,36.1 55.7,36.4 56.4,37.4 57.0,37.6 57.7,37.8 58.3,38.7 59.0,39.0 59.6,39.9 60.4,40.1 61.2,40.0 62.0,40.3 62.8,40.6 63.6,40.8 64.4,41.2 65.2,40.6 66.0,41.1 66.8,41.5 67.6,41.4 68.4,41.9 69.2,41.7 70.0,42.4 70.8,42.1 71.6,41.8 72.4,42.3 73.2,42.1 74.0,42.1 74.8,42.3 75.6,42.1 76.4,42.2 77.2,42.8 78.0,42.7 78.8,42.2 79.7,43.4 80.6,43.3 81.5,44.1 82.2,45.2 82.9,45.7 83.6,46.1 84.1,46.9 84.6,47.5 85.0,48.0 85.5,49.3 86.0,49.2 86.5,50.1 86.9,51.2 87.3,51.7 87.7,52.9 88.1,52.1 88.5,54.2 88.9,54.8 89.3,56.5 89.7,56.4 90.2,56.6 90.6,56.5 91.1,58.1 91.5,58.7 91.9,60.2 92.3,60.8 92.7,61.2 93.1,61.4 93.5,62.7 93.9,63.4 94.3,65.2 94.7,65.3 95.1,65.6 95.5,65.6 95.9,67.4 96.3,68.3 96.6,68.3 96.9,69.6 97.2,70.3 97.5,71.2 97.8,70.2 98.1,72.5 98.5,73.3 98.8,73.9 99.1,74.6 99.4,75.5 99.7,75.8 100.0,75.7 100.3,77.6 100.7,78.5 101.2,78.9 101.6,80.7 102.1,81.1 102.5,81.5 103.0,81.5 103.5,83.5 103.9,84.1 104.4,84.8 104.9,85.7 105.4,86.1 105.8,86.3 106.3,88.2 106.8,89.2 107.3,89.7 107.8,89.8 108.2,90.7 108.6,92.0 109.1,93.2 109.7,92.5 110.3,92.5 110.9,94.1 111.5,94.6 112.1,95.3 112.7,94.9 113.3,96.3 113.9,96.8 114.6,98.2 115.2,97.9 115.9,98.7 116.6,98.7 117.3,99.6 117.9,100.2 118.6,101.7 119.4,101.2 120.2,100.2 120.9,101.4 121.7,102.2 122.5,102.5 123.3,102.2 124.2,102.4 125.0,103.9 125.9,103.5 126.7,102.3 127.6,103.2 128.4,104.4 129.3,103.4 130.1,103.3 131.0,104.3 131.8,105.3 132.7,104.7 133.5,103.9 134.3,104.9 135.2,106.0 136.0,105.1 136.8,104.5 137.6,104.8 138.4,105.9 139.3,105.2 140.1,104.8 140.9,106.1 141.7,105.3 142.5,104.9 143.4,105.5 144.2,106.5 145.0,106.1 145.8,104.9 146.6,106.0 147.4,107.7 148.2,106.8 148.9,105.7 149.7,107.1 150.5,107.7 151.3,107.3 152.1,105.9 152.9,107.6 153.7,107.8 154.5,107.9 155.3,107.0 156.1,107.9 156.8,108.9 157.6,107.8 158.4,107.4 159.2,108.4 160.0,109.6 160.8,108.9 161.7,108.2 162.5,108.6 163.4,109.6 164.2,108.9 165.0,108.1 165.9,109.1 166.7,110.3 167.6,109.5 168.4,109.9 169.2,110.1 170.1,110.7 170.9,110.4 171.8,109.8 172.6,111.0" fill="none" stroke="#3a3a3a" stroke-width="1.05" stroke-linejoin="round"/>
<polyline points="181.0,34.2 181.8,35.5 182.6,36.4 183.4,35.6 184.2,34.8 185.0,35.7 185.8,35.1 186.6,36.8 187.4,35.2 188.2,35.1 189.0,35.3 189.8,35.5 190.6,36.7 191.4,35.5 192.2,34.2 193.0,35.9 193.8,36.2 194.6,35.3 195.4,34.6 196.2,35.4 197.0,36.3 197.8,35.8 198.6,35.5 199.4,35.6 200.2,35.9 201.0,35.9 201.8,34.9 202.6,35.2 203.4,35.3 204.2,36.6 205.1,35.3 205.9,34.8 206.7,35.5 207.5,37.1 208.3,35.5 209.1,36.0 209.9,34.9 210.8,35.6 211.6,36.0 212.4,35.5 213.2,35.6 214.0,34.5 214.8,35.8 215.6,36.6 216.4,36.2 217.2,34.7 218.1,36.3 218.9,36.3 219.7,36.4 220.5,35.6 221.3,35.8 222.1,35.0 222.9,35.9 223.8,36.8 224.6,36.2 225.4,35.0 226.2,35.9 227.0,36.3 227.8,35.9 228.6,35.6 229.4,36.5 230.2,36.4 231.1,36.6 231.9,35.9 232.7,36.5 233.5,35.2 234.3,36.5 235.1,37.6 235.9,36.6 236.8,36.6 237.6,36.0 238.4,36.6 239.2,37.9 240.0,36.8 240.8,35.8 241.6,36.6 242.4,36.7 243.2,37.5 244.1,36.8 244.9,36.6 245.7,36.0 246.5,36.7 247.3,36.5 248.1,37.9 248.9,36.5 249.7,36.6 250.5,35.3 251.4,36.9 252.2,38.0 253.0,36.6 253.8,37.1 254.6,36.3 255.4,36.7 256.2,36.9 257.0,38.4 257.8,36.7 258.6,36.4 259.5,36.9 260.3,38.1 261.1,37.4 261.9,35.5 262.7,36.7 263.5,38.2 264.3,36.7 265.1,35.9 265.9,36.9 266.8,36.8 267.6,38.0 268.4,37.4 269.2,36.6 270.0,36.9 270.8,37.2 271.6,37.6 272.4,37.4 273.2,37.4 274.0,36.0 274.8,37.0 275.6,38.2 276.4,37.4 277.2,37.2 278.0,36.4 278.8,37.3 279.6,37.1 280.4,38.7 281.2,37.2 282.0,37.8 282.8,36.9 283.6,37.8 284.4,38.1 285.2,37.5 286.0,36.4 286.8,37.2 287.6,38.4 288.4,37.3 289.3,37.6 290.1,36.6 290.9,37.6 291.7,38.1 292.5,37.5 293.3,37.8 294.1,37.3 294.9,37.6 295.7,39.2 296.5,38.1 297.3,37.0 298.1,37.7 298.9,37.4 299.7,38.9 300.5,37.8 301.3,37.1 302.1,37.7 302.9,38.9 303.7,37.5 304.5,38.1 305.3,37.4 306.1,38.0 306.9,37.6" fill="none" stroke="#262626" stroke-width="0.9" stroke-linejoin="round"/>
<polyline points="181.0,34.5 181.8,34.6 182.6,34.5 183.5,34.2 184.3,34.1 185.1,34.2 185.9,34.2 186.7,34.4 187.5,34.3 188.4,34.2 189.2,34.2 190.0,34.2 190.8,33.9 191.6,34.0 192.4,33.8 193.3,34.2 194.1,33.7 194.9,34.1 195.7,33.6 196.5,33.9 197.4,33.7 198.2,33.7 199.0,33.9 199.8,33.4 200.6,33.4 201.4,33.9 202.3,33.6 203.1,33.3 203.9,33.8 204.0,33.0 204.2,31.7 204.3,31.0 204.5,30.1 204.6,29.4 204.7,28.7 204.9,27.7 205.0,27.2 205.2,26.0 205.3,25.2 205.5,24.8 205.6,23.8 205.7,23.0 205.9,22.3 206.0,21.4 206.2,20.5 206.3,19.5 206.5,20.7 206.8,21.7 207.0,22.5 207.2,23.1 207.4,23.7 207.7,24.5 207.9,25.5 208.1,26.3 208.4,26.8 208.6,27.6 208.8,28.5 209.0,29.4 209.3,30.4 209.5,31.0 209.7,31.5 209.9,32.8 210.1,33.4 210.2,34.3 210.4,35.0 210.6,35.9 210.8,36.7 211.0,37.8 211.2,38.2 211.4,39.2 211.6,39.8 211.8,41.0 212.0,41.4 212.2,42.3 212.5,43.2 212.7,44.1 212.9,44.6 213.1,45.7 213.3,46.3 213.5,47.2 213.8,48.1 214.1,49.2 214.3,49.7 214.6,50.8 214.9,51.1 215.2,52.4 215.4,52.9 215.7,53.6 216.0,54.7 216.2,55.6 216.5,55.9 216.8,56.9 217.4,57.8 217.9,58.3 218.5,58.9 219.1,59.4 219.7,60.2 220.2,61.2 220.8,62.1 221.5,62.5 222.2,62.7 223.0,62.8 223.7,63.5 224.4,64.2 225.1,64.5 225.9,64.9 226.6,65.4 227.3,66.1 228.2,66.0 229.0,65.8 229.9,66.1 230.7,66.1 231.6,66.1 232.4,66.8 233.3,66.4 234.1,66.5 235.0,66.3 235.9,66.7 236.7,66.2 237.6,66.6 238.4,65.9 239.3,66.0 240.1,65.0 241.0,65.7 241.8,65.6 242.6,65.5 243.4,65.0 244.3,65.2 245.1,64.7 245.9,64.7 246.7,64.6 247.5,64.2 248.3,63.8 249.2,64.2 250.0,64.0 250.8,63.9 251.6,63.6 252.4,63.6 253.2,62.8 254.0,62.9 254.9,63.1 255.7,62.7 256.5,62.7 257.3,62.1 258.1,62.7 258.9,62.4 259.7,62.8 260.5,62.5 261.3,62.3 262.1,62.1 262.9,62.0 263.7,61.9 264.5,62.0 265.3,61.7 266.1,61.3 267.0,61.6 267.8,61.7 268.6,62.0 269.4,61.3 270.2,61.6 271.0,61.3 271.8,61.1 272.6,61.1 273.4,61.2 274.2,60.9 275.0,61.3 275.8,60.3 276.6,61.1 277.4,61.0 278.3,60.9 279.1,60.6 279.9,60.4 280.7,60.2 281.5,60.7 282.3,60.5 283.1,60.7 283.9,60.2 284.8,60.1 285.6,60.4 286.4,60.3 287.2,60.4 288.0,60.1 288.8,59.8 289.6,60.0 290.5,60.1 291.3,60.3 292.1,59.9 292.9,59.9 293.7,59.5 294.5,59.6 295.3,59.4 296.1,59.7 297.0,59.5 297.8,59.2 298.6,59.7 299.4,59.4 300.2,59.4 301.0,58.9 301.8,59.5 302.7,59.3 303.5,59.4 304.3,59.1 305.1,58.5 305.9,59.1 306.7,59.1 307.5,59.2 308.3,58.8 309.2,58.8 310.0,58.4 310.8,58.7 311.6,58.6" fill="none" stroke="#444" stroke-width="0.9" stroke-linejoin="round"/>
<polyline points="181.0,36.3 181.8,36.6 182.6,36.6 183.5,36.7 184.3,36.2 185.1,36.2 185.9,36.1 186.7,36.1 187.6,36.5 188.4,36.0 189.2,36.3 190.0,36.1 190.8,36.1 191.7,36.2 192.5,36.5 193.3,36.3 194.1,35.8 194.9,36.0 195.8,35.9 196.6,36.4 197.4,36.3 198.2,36.3 199.0,36.3 199.9,36.2 200.7,36.4 201.5,36.2 201.6,35.0 201.7,34.6 201.8,33.5 201.8,32.9 201.9,31.9 202.0,30.9 202.1,30.1 202.2,29.3 202.2,28.4 202.3,27.4 202.4,27.1 202.5,26.2 202.8,27.2 203.1,27.7 203.3,28.4 203.6,29.3 203.9,29.6 204.2,30.8 204.4,31.4 204.7,32.0 205.0,32.8 205.6,33.6 206.2,34.0 206.8,34.8 207.4,35.5 208.0,35.9 208.8,36.2 209.5,37.0 210.2,37.3 211.0,37.8 211.2,38.5 211.4,39.5 211.5,40.0 211.7,41.3 211.9,42.3 212.1,42.6 212.3,43.7 212.5,44.6 212.6,44.7 212.8,45.6 213.0,46.9 213.2,47.7 213.4,48.3 213.5,48.7 213.7,49.7 213.9,50.9 214.1,51.7 214.3,52.4 214.5,52.7 214.6,54.0 214.8,54.4 215.0,55.5 215.3,55.8 215.6,57.2 216.0,57.6 216.3,58.5 216.6,58.8 216.9,59.9 217.3,60.6 217.6,61.3 217.9,61.9 218.2,62.9 218.6,63.4 218.9,64.1 219.2,64.7 219.9,65.7 220.5,65.8 221.2,66.4 221.8,66.9 222.5,67.1 223.2,67.9 223.8,69.0 224.5,69.8 225.0,69.9 225.5,70.2 226.0,71.4 226.5,71.8 227.0,72.9 227.5,74.4 228.0,74.1 228.5,74.9 229.0,74.9 229.5,76.6 230.0,77.1 230.7,77.7 231.4,77.7 232.1,77.2 232.8,78.8 233.5,80.1 234.2,79.6 234.9,79.8 235.6,79.8 236.3,81.1 237.0,81.1 237.7,81.9 238.5,81.8 239.3,81.7 240.1,81.9 240.8,82.2 241.6,82.8 242.4,82.5 243.2,82.0 244.0,82.9 244.8,83.0 245.6,84.3 246.3,83.9 247.1,83.8 247.9,83.8 248.7,83.8 249.5,84.5 250.3,84.8 251.1,84.2 251.9,84.4 252.6,83.5 253.4,85.5 254.2,85.2 255.0,86.2 255.8,85.8 256.6,85.6 257.4,84.9 258.2,86.0 259.1,86.4 259.9,86.8 260.7,86.9 261.5,85.7 262.3,86.9 263.1,87.1 263.9,87.9 264.7,87.4 265.6,86.6 266.4,87.5 267.2,89.1 268.0,88.1 268.8,87.6 269.6,88.6 270.4,90.1 271.2,88.6 272.0,88.1 272.8,89.6 273.6,89.5 274.4,89.7 275.2,89.8 276.0,89.6 276.8,90.4 277.6,90.8 278.4,91.5 279.2,91.1 280.0,91.2 280.8,90.9 281.6,91.1 282.4,92.6 283.2,91.9 284.0,92.2 284.8,91.4 285.6,92.5 286.4,94.1 287.2,92.7 288.0,93.3 288.8,92.4 289.6,93.3 290.3,93.8 291.1,94.5 291.9,94.2 292.6,93.4 293.4,94.2 294.2,94.4 295.0,95.8 295.8,94.7 296.5,94.3 297.3,95.2 298.1,95.2 298.9,96.2 299.6,96.3 300.4,96.4 301.2,96.2 301.9,96.2 302.7,96.8 303.5,98.1 304.3,96.9 305.1,96.0 305.9,97.0 306.7,96.8 307.5,97.1 308.3,97.3 309.1,96.8 309.9,96.4 310.7,97.0 311.5,97.2 312.3,97.4 313.1,96.9 313.9,96.6 314.7,95.7 315.5,97.3 316.3,97.2 317.1,97.0 317.9,96.7 318.8,95.7 319.6,97.2 320.4,97.2 321.2,98.1 322.0,97.1 322.8,97.0 323.6,96.7 324.4,96.6 325.2,97.4 326.0,97.0 326.8,97.3 327.6,96.4 328.4,97.0 329.2,97.2 330.0,98.1 330.8,96.8 331.6,95.8 332.4,96.6 333.2,98.2 334.0,96.7" fill="none" stroke="#333" stroke-width="0.9" stroke-linejoin="round"/>
<polyline points="181.0,35.8 181.8,36.1 182.6,36.1 183.4,36.2 184.2,35.8 185.0,35.8 185.8,36.1 186.6,36.0 187.4,35.8 188.2,36.0 189.0,35.8 189.8,36.0 190.6,35.6 191.4,35.7 192.2,36.1 193.0,35.7 193.8,35.7 194.6,36.0 195.4,35.9 196.2,35.6 197.0,35.8 197.8,35.8 198.6,35.5 199.4,35.8 200.2,35.5 201.0,35.6 201.8,35.4 202.6,35.5 203.4,35.9 204.2,35.6 205.0,35.9 205.8,35.6 206.7,35.7 207.5,35.8 208.3,35.7 209.1,35.3 209.9,35.6 210.7,35.6 211.5,35.3 212.3,35.3 213.1,35.7 213.9,35.5 214.7,35.3 215.5,35.4 216.3,35.3 217.1,35.6 217.9,35.4 218.7,35.2 219.5,35.6 220.3,35.1 221.1,35.2 221.9,35.1 222.7,35.5 223.5,35.1 224.3,35.3 225.1,35.1 225.9,35.3 226.7,35.4 227.5,35.3 228.3,35.2 229.1,35.2 229.9,35.2 230.7,35.3 231.5,35.0 232.3,35.2 232.7,34.4 233.1,34.0 233.5,33.4 233.9,32.2 234.4,31.5 234.8,31.2 235.2,30.4 235.6,29.4 236.0,29.1 236.8,28.8 237.5,28.1 238.2,27.6 239.0,27.3 239.8,27.1 240.5,26.2 241.2,25.8 242.0,25.3 242.6,26.2 243.2,26.7 243.8,27.2 244.4,27.8 245.0,28.2 245.6,29.0 246.2,30.0 246.8,30.4 247.4,30.8 248.0,31.8 248.6,32.0 249.2,32.6 249.6,33.1 249.9,33.9 250.3,34.7 250.6,35.4 251.0,36.5 251.3,36.9 251.7,37.6 252.0,38.5 252.4,39.5 252.7,39.9 253.0,41.0 253.4,41.6 253.7,42.5 254.0,43.3 254.3,44.3 254.6,45.0 255.0,45.7 255.3,46.7 255.6,47.2 255.9,48.0 256.1,49.2 256.4,49.8 256.7,50.7 256.9,51.2 257.2,52.4 257.5,53.0 257.7,53.6 258.0,54.8 258.3,55.4 258.5,56.1 258.8,56.9 259.1,57.5 259.4,58.4 259.6,59.4 259.9,59.9 260.2,60.7 260.5,61.6 260.7,62.5 261.0,63.2 261.3,64.2 261.5,64.6 261.7,65.5 261.9,66.3 262.1,66.7 262.3,68.0 262.5,68.8 262.7,69.6 262.9,70.2 263.1,71.1 263.3,71.5 263.5,72.5 263.7,73.6 263.9,73.9 264.1,75.4 264.3,75.9 264.5,76.8 265.0,77.4 265.5,77.6 266.0,78.1 266.5,79.3 267.0,79.9 267.5,80.6 268.0,81.2 268.5,82.3 269.0,82.3 269.5,83.2 270.0,84.3 270.6,84.3 271.3,85.0 271.9,85.3 272.6,86.4 273.2,87.2 273.9,87.3 274.5,87.9 275.2,88.1 275.8,88.4 276.6,89.2 277.4,89.5 278.2,89.2 279.1,89.2 279.9,89.5 280.7,90.2 281.5,90.2 282.3,89.9 283.1,89.8 283.9,90.2 284.7,90.5 285.5,90.8 286.3,90.5 287.1,90.5 287.9,90.2 288.7,90.7 289.5,90.3 290.3,90.6 291.1,90.8 292.0,90.4 292.8,90.3 293.6,90.6 294.4,90.6 295.2,90.7 296.0,90.6 296.8,91.1 297.6,90.4 298.4,90.8 299.2,91.2 300.0,91.6 300.8,91.0 301.6,91.0 302.5,90.3 303.3,90.9 304.1,91.1 304.9,91.9 305.7,91.3 306.5,90.9 307.4,91.6 308.2,91.9 309.0,91.6 309.8,90.9 310.6,91.6 311.4,91.4 312.3,91.7 313.1,91.9 313.9,91.7 314.7,91.2 315.5,92.1 316.3,92.1 317.2,92.5 318.0,92.1 318.8,91.7" fill="none" stroke="#8a8a8a" stroke-width="0.9" stroke-linejoin="round"/>
<polyline points="181.0,35.3 181.8,34.7 182.6,35.2 183.4,34.8 184.2,35.3 185.0,34.7 185.8,35.3 186.6,35.2 187.4,35.3 188.2,35.4 189.0,34.9 189.8,35.0 190.6,35.2 191.4,35.0 192.2,35.0 193.0,35.0 193.8,35.3 194.6,35.4 195.4,35.3 196.2,35.0 197.0,35.4 197.8,35.2 198.6,35.0 199.4,35.2 200.2,35.1 201.0,34.9 201.8,35.2 202.6,35.1 203.4,35.3 204.2,35.5 205.0,35.3 205.8,35.2 206.6,35.5 207.4,35.6 208.2,35.3 209.0,35.5 209.8,35.0 210.6,35.1 211.4,35.1 212.2,35.6 213.0,35.4 213.8,35.4 214.6,35.2 215.4,35.3 216.2,35.6 217.0,35.1 217.8,35.1 218.6,35.1 219.4,35.4 220.2,35.6 221.0,35.4 221.8,35.3 222.6,35.4 223.4,35.2 224.2,35.7 225.0,35.3 225.8,35.3 226.6,35.3 227.4,35.6 228.2,35.3 229.0,35.7 229.8,35.4 230.6,35.4 231.4,35.2 232.2,35.7 233.0,35.7 233.4,34.8 233.8,33.9 234.2,33.4 234.6,32.6 235.0,32.2 235.4,31.6 235.8,30.7 236.2,29.8 236.6,28.9 237.0,28.7 237.8,28.4 238.6,27.5 239.4,27.4 240.2,27.0 241.1,26.9 241.9,26.0 242.7,25.6 243.5,25.7 244.1,26.1 244.7,26.7 245.2,27.5 245.8,28.0 246.4,28.6 247.0,29.0 247.6,29.5 248.2,30.0 248.8,30.8 249.3,31.6 249.9,32.0 250.5,32.6 250.9,33.5 251.3,34.3 251.7,35.0 252.1,35.6 252.4,36.7 252.8,37.4 253.2,38.2 253.6,39.0 254.0,39.2 254.2,40.4 254.5,41.0 254.7,41.9 254.9,42.7 255.2,43.3 255.4,44.2 255.6,45.4 255.8,45.9 256.1,47.0 256.3,47.7 256.5,48.3 256.8,49.1 257.0,50.1 257.1,50.9 257.3,51.5 257.4,52.2 257.5,53.1 257.6,54.3 257.8,55.0 257.9,55.5 258.0,56.7 258.2,57.4 258.3,58.0 258.4,59.2 258.5,59.5 258.7,60.3 258.8,61.3 259.5,62.1 260.1,62.5 260.8,63.0 261.4,63.8 262.1,63.9 262.7,64.8 263.4,65.3 264.1,65.8 264.7,66.7 265.4,66.7 266.0,67.4 266.7,67.7 267.3,68.6 268.0,68.9 268.7,69.7 269.5,69.9 270.2,69.9 271.0,70.2 271.7,70.9 272.5,70.6 273.2,71.6 274.0,72.0 274.7,72.7 275.5,72.8 276.2,72.9 277.0,73.0 277.7,73.7 278.5,73.8 279.3,74.4 280.2,74.2 281.0,73.9 281.8,73.1 282.6,74.0 283.4,74.6 284.2,74.8 285.1,74.4 285.9,74.5 286.7,73.9 287.5,74.5 288.3,74.7 289.1,75.6 290.0,74.8 290.8,75.2 291.6,74.6 292.4,75.1 293.2,76.0 294.0,75.6 294.9,75.7 295.7,74.6 296.5,75.4 297.3,76.2 298.1,75.8 298.9,75.6 299.7,74.7 300.5,75.5 301.3,75.4 302.1,76.1 302.9,75.1 303.7,75.5 304.5,75.0 305.3,74.9 306.1,74.9 306.9,75.3 307.7,74.8 308.5,74.7 309.3,74.0 310.1,75.1 310.9,74.8 311.7,75.5 312.5,74.8 313.3,74.7 314.1,74.1 314.9,74.3 315.7,74.4 316.5,74.8 317.3,74.3 318.1,74.6 318.9,73.2 319.7,74.4 320.5,74.9 321.3,74.1 322.1,73.7 322.9,74.1 323.7,74.3 324.5,74.1 325.3,73.7 326.1,73.3 326.9,73.5 327.7,73.5 328.5,74.5" fill="none" stroke="#8a8a8a" stroke-width="0.9" stroke-linejoin="round"/>
<polyline points="181.0,34.9 181.8,35.0 182.6,35.0 183.5,35.1 184.3,35.1 185.1,35.4 185.9,35.0 186.7,35.4 187.6,34.8 188.4,35.2 189.2,35.2 190.0,35.1 190.8,35.7 191.7,35.3 192.5,35.8 193.3,36.1 194.1,35.4 194.9,36.1 195.8,36.0 196.6,35.9 197.4,35.3 198.2,35.8 199.0,36.0 199.9,35.7 200.7,35.7 201.5,35.8 201.6,36.6 201.6,37.9 201.7,38.2 201.7,39.1 201.8,40.1 201.8,41.2 201.8,41.4 201.9,41.9 201.9,43.7 202.0,44.3 202.1,45.1 202.1,45.6 202.2,46.1 202.2,46.9 202.2,47.8 202.3,48.8 202.3,49.2 202.4,50.6 202.4,51.4 202.5,51.5 202.6,53.1 202.6,53.6 202.7,54.8 202.7,55.2 202.8,56.3 202.8,56.8 202.8,57.7 202.9,58.4 202.9,58.7 203.0,59.6 203.2,60.5 203.3,61.5 203.5,62.2 203.7,63.2 203.9,64.1 204.0,64.6 204.2,65.3 204.4,66.3 204.6,67.6 204.7,68.2 204.9,68.8 205.1,69.2 205.3,69.9 205.4,70.6 205.6,72.3 205.8,72.8 206.0,73.7 206.1,74.3 206.3,75.9 206.6,76.2 206.9,76.2 207.3,76.8 207.6,78.3 207.9,77.6 208.2,79.7 208.5,80.3 208.9,80.8 209.2,82.5 209.5,82.9 209.9,83.7 210.3,83.3 210.8,85.0 211.2,85.9 211.6,87.1 212.0,86.8 212.4,87.3 212.8,88.3 213.2,87.9 213.7,89.9 214.1,90.2 214.5,91.6 214.9,93.6 215.3,93.1 215.8,93.4 216.2,94.5 216.6,93.8 217.0,96.0 217.5,96.1 218.0,99.0 218.5,97.2 219.0,98.0 219.5,97.9 220.0,99.9 220.5,100.3 221.0,101.1 221.5,103.1 222.0,102.1 222.5,102.8 223.0,103.5 223.5,103.9 224.0,105.0 224.5,105.7 225.2,106.8 225.9,106.2 226.5,106.1 227.2,105.6 227.9,107.1 228.6,108.0 229.3,108.4 230.0,107.4 230.6,108.7 231.3,110.5 232.0,109.7 232.8,109.5 233.6,110.2 234.4,110.8 235.2,112.9 236.0,111.6 236.8,110.9 237.5,112.1 238.3,112.6 239.1,112.7 239.9,113.0 240.7,112.4 241.5,114.1 242.3,115.8 243.2,113.7 244.0,113.4 244.9,112.0 245.7,113.8 246.6,114.8 247.4,114.0 248.2,113.7 249.1,114.4 249.9,115.3 250.8,114.8 251.6,112.9 252.5,114.8 253.3,116.2 254.2,114.8 255.0,114.2 255.8,113.5 256.7,115.2 257.5,115.9 258.3,114.8 259.2,115.2 260.0,114.8 260.8,115.8 261.7,116.0 262.5,117.0 263.3,115.6 264.2,115.2 265.0,115.9 265.8,116.3 266.7,116.0 267.5,116.3 268.3,116.7 269.2,117.2 270.0,116.9 270.8,115.2 271.6,117.3 272.4,118.1 273.3,117.9 274.1,115.6 274.9,118.1 275.7,118.8 276.5,118.4 277.3,116.8 278.1,118.5 279.0,119.4 279.8,117.9 280.6,118.0 281.4,118.7 282.2,119.4 283.0,118.4 283.9,118.9 284.7,117.4 285.5,119.1 286.3,120.3 287.1,119.4 287.9,120.0 288.7,118.6 289.6,119.8 290.4,119.7 291.2,120.8 292.0,120.3 292.8,118.1 293.6,120.2 294.4,121.8 295.3,120.5 296.1,119.7 296.9,120.6 297.7,121.1" fill="none" stroke="#262626" stroke-width="1.0" stroke-linejoin="round"/>
<polyline points="348.0,33.2 348.8,33.7 349.6,33.7 350.4,33.6 351.3,33.4 352.1,33.9 352.9,34.0 353.7,33.8 354.5,33.8 355.3,33.6 356.1,33.5 357.0,33.8 357.8,34.0 358.6,33.6 359.4,34.3 360.2,33.8 361.0,33.9 361.9,33.8 362.7,34.6 363.5,34.4 364.3,34.5 365.1,34.4 365.9,33.9 366.7,34.2 367.6,34.4 368.4,34.1 369.2,34.8 370.0,34.4 370.9,34.2 371.7,34.7 372.6,34.2 373.4,34.8 374.3,34.4 375.1,34.5 376.0,34.3 376.6,33.8 377.2,33.0 377.8,32.3 378.5,32.4 379.1,31.3 379.7,31.2 380.3,30.2 380.9,30.2 381.5,29.6 382.2,28.9 382.8,28.3 383.4,27.6 384.0,27.2 384.8,26.5 385.6,26.5 386.4,26.6 387.2,25.8 388.0,26.2 388.8,25.9 389.6,25.3 390.4,25.1 391.2,24.9 392.0,24.6 392.8,25.4 393.5,25.2 394.3,25.3 395.0,25.7 395.8,26.5 396.6,27.0 397.3,26.9 398.1,27.3 398.8,27.6 399.6,28.1 400.4,28.0 401.1,28.6 401.9,28.9 402.6,29.3 403.4,29.2 404.2,29.4 405.0,29.6 405.8,30.2 406.6,29.9 407.4,30.2 408.2,30.1 409.0,30.1 409.8,30.2 410.6,30.9 411.4,31.0 412.3,30.8 413.1,31.1 413.9,31.3 414.7,31.6 415.5,31.7 416.3,31.4 417.1,32.0 417.9,32.1 418.7,31.9 419.5,32.3 420.3,32.0 421.1,32.0 421.9,31.9 422.8,32.4 423.6,31.9 424.4,31.9 425.2,32.5 426.0,32.5 426.8,32.3 427.7,32.6 428.5,32.0 429.3,32.2 430.1,32.3 430.9,32.5 431.7,32.3 432.6,32.2 433.4,32.5 434.2,33.0 435.0,33.1 435.8,32.9 436.6,32.7 437.4,32.5 438.2,33.1 439.1,32.8 439.9,33.0 440.7,32.4 441.5,32.6 442.3,33.1 443.1,33.0 443.9,33.1 444.7,32.9 445.5,32.8 446.4,32.9 447.2,33.1 448.0,32.7 448.8,32.9 449.6,32.7 450.4,33.1 451.2,32.5 452.0,33.1 452.8,33.3 453.7,32.6 454.5,33.0 455.3,33.1 456.1,33.3 456.9,33.1 457.7,32.8 458.5,33.0 459.3,33.4 460.2,33.4 461.0,32.8 461.8,32.7 462.6,32.8 463.4,32.7 464.2,33.1 465.0,32.8 465.8,33.4 466.6,33.3 467.5,32.9 468.3,33.2 469.1,33.0 469.9,33.2 470.7,33.0 471.5,32.9 472.3,33.0 473.1,33.1 473.9,33.4 474.8,33.3 475.6,32.9 476.4,33.4 477.2,33.6 478.0,33.5" fill="none" stroke="#8a8a8a" stroke-width="0.9" stroke-linejoin="round"/>
<polyline points="348.0,34.8 348.8,34.3 349.6,34.2 350.4,34.8 351.3,34.3 352.1,34.3 352.9,34.6 353.7,34.4 354.5,34.7 355.3,34.3 356.2,34.7 357.0,34.4 357.8,34.5 358.6,34.7 359.4,34.6 360.2,34.7 361.1,34.6 361.9,34.2 362.7,34.7 363.5,34.5 364.3,34.3 365.1,34.3 365.9,34.7 366.8,34.5 367.6,34.7 368.4,34.6 369.2,34.7 370.0,34.5 370.8,34.5 371.7,34.5 372.5,33.9 373.3,34.6 374.1,35.2 374.9,34.5 375.7,34.1 376.6,33.6 377.4,34.4 378.2,34.5 379.0,34.8 379.8,34.2 380.6,34.3 381.4,34.1 382.2,34.5 383.0,34.9 383.8,34.4 384.6,33.3 385.4,33.8 386.2,34.3 387.0,33.7 387.8,33.9 388.6,33.3 389.4,33.5 390.2,33.9 391.0,34.2 391.8,33.7 392.6,33.9 393.4,33.0 394.2,33.4 395.0,33.7 395.8,34.2 396.6,33.5 397.4,33.1 398.2,33.1 399.0,33.5 399.8,33.3 400.6,33.4 401.4,32.5 402.2,32.9 403.0,33.1 403.8,33.6 404.6,33.1 405.4,32.7 406.2,32.2 407.0,32.8 407.8,32.8 408.6,32.8 409.4,32.9 410.2,31.9 411.0,32.4 411.8,32.3 412.6,33.0 413.4,32.7 414.2,32.1 415.0,32.7 415.8,32.7 416.6,32.2 417.4,32.6 418.2,31.7 419.0,32.1 419.8,32.0 420.6,32.9 421.4,32.4 422.2,32.0 423.0,31.6 423.8,31.8 424.6,32.0 425.4,32.0 426.2,31.7 427.0,31.6 427.8,32.0 428.6,32.1 429.4,32.2 430.2,31.5 431.0,31.7 431.8,31.3 432.6,31.8 433.4,31.9 434.2,32.3 435.0,31.6 435.8,31.2 436.6,31.8 437.4,31.5 438.2,31.6 439.1,31.4 439.9,30.9 440.7,31.6 441.5,32.0 442.3,32.4 443.1,31.8 443.9,31.2 444.7,31.6 445.5,32.2 446.4,32.3 447.2,31.9 448.0,31.1 448.8,32.0 449.6,32.7 450.4,32.2 451.2,31.8 452.0,31.8 452.8,32.1 453.7,32.5 454.5,32.3 455.3,32.5 456.1,31.5 456.9,32.5 457.7,32.2 458.5,32.9 459.3,32.4 460.2,32.2 461.0,32.1 461.8,32.5 462.6,33.0 463.4,32.4 464.2,32.4 465.0,32.2 465.8,32.4 466.6,32.3 467.5,32.8 468.3,32.8 469.1,32.1 469.9,32.8 470.7,33.1 471.5,32.6 472.3,32.6 473.1,32.8 473.9,33.1 474.8,32.7 475.6,32.9 476.4,32.7 477.2,33.2 478.0,33.5" fill="none" stroke="#444" stroke-width="0.9" stroke-linejoin="round"/>
<polyline points="348.0,35.8 348.8,35.8 349.6,35.8 350.4,35.3 351.3,35.6 352.1,35.5 352.9,35.6 353.7,35.4 354.5,35.4 355.3,35.6 356.2,35.5 357.0,35.6 357.8,35.4 358.6,35.4 359.4,35.8 360.2,35.7 361.1,35.7 361.9,35.9 362.7,35.7 363.5,35.5 364.3,35.9 365.1,35.8 365.9,35.9 366.8,35.9 367.6,36.1 368.4,35.7 369.2,36.0 370.0,35.8 370.8,35.9 371.7,36.0 372.5,35.3 373.3,36.0 374.1,35.9 374.9,36.1 375.7,36.1 376.6,35.5 377.4,35.8 378.2,36.6 379.0,35.9 379.8,36.1 380.6,35.1 381.4,36.0 382.2,35.7 383.0,36.8 383.8,35.6 384.6,35.3 385.4,35.9 386.2,36.0 387.0,36.7 387.8,35.8 388.6,35.6 389.4,35.3 390.2,35.4 391.0,36.0 391.8,35.5 392.6,35.5 393.4,34.5 394.2,35.3 395.0,35.6 395.8,36.0 396.6,35.4 397.4,35.0 398.2,35.1 399.0,35.2 399.8,35.9 400.6,35.0 401.4,34.5 402.2,34.8 403.0,35.5 403.8,35.0 404.6,34.8 405.4,35.2 406.2,35.9 407.0,34.9 407.8,34.5 408.6,35.2 409.4,35.2 410.2,36.0 411.0,35.0 411.8,35.5 412.6,34.9 413.4,35.2 414.2,36.0 415.0,35.3 415.8,35.4 416.6,35.1 417.4,35.3 418.2,36.0 419.0,35.5 419.8,35.0 420.6,35.5 421.4,35.4 422.2,36.0 423.0,35.4 423.8,35.3 424.6,35.9 425.4,36.4 426.2,35.6 427.0,36.0 427.8,34.8 428.6,35.6 429.4,36.5 430.2,35.8 431.0,35.9 431.8,35.6 432.6,35.8 433.4,35.7 434.2,36.2 435.0,36.1 435.8,36.3 436.6,35.4 437.4,36.4 438.2,36.5 439.0,37.0 439.8,36.5 440.6,35.5 441.4,36.6 442.2,36.6 443.0,36.5 443.8,36.8 444.6,36.3 445.4,36.9 446.2,36.6 447.0,37.4 447.8,37.0 448.6,37.1 449.4,36.9 450.2,36.9 451.0,37.3 451.8,37.0 452.6,37.6 453.4,37.1 454.2,37.2 455.0,37.2 455.7,37.8 456.5,37.3 457.3,37.4 458.1,37.0 458.9,37.8 459.7,38.4 460.5,37.7 461.3,37.9 462.1,37.4 462.9,37.8 463.7,38.2 464.5,38.7 465.3,38.3 466.1,38.5 466.9,37.9 467.7,38.2 468.5,38.6 469.3,38.9 470.1,38.6 470.9,38.7 471.7,37.9 472.5,38.5 473.3,38.8 474.1,39.0 474.9,38.5 475.7,39.2" fill="none" stroke="#444" stroke-width="0.9" stroke-linejoin="round"/>
<polyline points="348.0,35.1 348.8,35.3 349.6,35.0 350.4,35.5 351.2,35.1 352.0,35.5 352.8,35.2 353.6,35.6 354.4,35.4 355.2,35.8 356.0,35.8 356.8,35.9 357.6,35.8 358.4,36.1 359.2,36.3 360.0,35.8 360.8,36.1 361.6,36.5 362.4,36.4 363.2,36.3 364.0,36.3 364.8,36.7 365.6,36.3 366.4,36.8 367.2,36.9 368.0,36.6 368.8,36.7 369.6,36.8 370.4,37.0 371.2,37.0 372.0,37.0 372.8,37.4 373.6,37.0 374.4,38.3 375.2,37.6 376.0,37.6 376.8,37.0 377.6,37.4 378.3,38.1 379.0,39.0 379.8,39.1 380.5,39.2 381.2,39.0 381.9,40.1 382.7,40.6 383.4,41.5 384.1,41.5 384.8,41.7 385.6,42.1 386.3,42.7 387.0,44.2 387.8,43.5 388.6,43.6 389.5,43.3 390.3,43.7 391.1,43.9 391.9,44.5 392.7,44.2 393.6,44.1 394.4,44.9 395.2,44.8 396.0,45.3 396.8,44.9 397.7,45.1 398.5,45.0 399.3,45.5 400.1,46.3 400.9,45.7 401.8,46.2 402.6,45.4 403.4,46.3 404.2,46.4 405.0,46.9 405.8,46.8 406.6,46.9 407.4,46.2 408.2,47.2 409.0,47.2 409.8,46.9 410.6,47.0 411.4,46.8 412.3,47.2 413.1,47.5 413.9,47.5 414.7,47.4 415.5,47.7 416.3,47.0 417.1,47.6 417.9,47.7 418.7,48.4 419.5,47.9 420.3,47.8 421.1,47.9 421.9,48.2 422.8,48.6 423.6,48.5 424.4,48.2 425.2,48.3 426.0,48.2 426.8,49.2 427.7,48.6 428.5,48.3 429.3,48.6 430.1,48.9 430.9,49.1 431.7,48.9 432.6,48.4 433.4,49.1 434.2,49.0 435.0,49.6 435.8,49.0 436.6,48.8 437.4,48.1 438.2,48.8 439.0,48.8 439.9,49.6 440.7,49.4 441.5,49.2 442.3,49.3 443.1,49.8 443.9,49.4 444.7,48.7 445.5,49.6 446.3,49.5 447.1,49.4 448.0,49.3 448.8,48.9 449.6,49.4 450.4,49.7 451.2,49.5 452.0,49.5 452.8,49.0 453.6,49.8 454.4,50.0 455.2,49.7 456.0,48.8 456.9,49.6 457.7,50.7 458.5,49.7 459.3,49.5 460.1,49.9 460.9,49.7 461.7,50.3 462.5,49.6 463.3,49.6 464.1,49.8 465.0,50.1 465.8,50.1 466.6,49.7 467.4,50.1 468.2,49.7 469.0,49.7 469.8,50.2 470.6,50.7 471.4,49.8 472.2,50.1 473.0,49.8 473.9,50.3 474.7,50.2 475.5,50.3 476.3,49.9 477.1,50.4 477.9,49.6 478.7,50.2 479.5,50.5 480.3,50.7 481.1,50.1 482.0,50.3 482.8,49.6 483.6,50.4 484.4,50.3 485.2,51.1 486.0,50.5" fill="none" stroke="#333" stroke-width="0.9" stroke-linejoin="round"/>
<polyline points="348.0,33.9 348.8,34.3 349.6,34.2 350.4,33.8 351.3,34.2 352.1,34.1 352.9,33.7 353.7,34.3 354.5,33.9 355.3,33.9 356.1,34.0 357.0,34.1 357.8,33.8 358.6,34.1 359.4,34.2 360.2,34.0 361.0,34.2 361.9,34.1 362.7,34.2 363.5,33.8 364.3,33.9 365.1,34.0 365.9,33.8 366.7,34.3 367.6,34.1 368.4,33.8 369.2,34.0 370.0,33.9 370.3,33.0 370.6,32.2 370.9,31.6 371.2,30.6 371.5,30.1 371.8,29.3 372.1,28.3 372.4,28.0 372.7,26.7 373.0,27.6 373.2,28.8 373.5,29.3 373.7,30.2 374.0,31.1 374.2,31.9 374.5,32.7 374.7,33.5 375.0,34.3 375.2,34.9 375.5,36.2 375.7,36.7 376.0,37.3 376.1,38.4 376.1,39.4 376.2,40.2 376.3,40.9 376.3,41.7 376.4,42.4 376.5,43.5 376.5,44.1 376.6,44.8 376.7,45.6 376.7,46.4 376.8,47.6 376.9,48.6 376.9,49.3 377.0,49.8 377.2,50.6 377.4,51.9 377.6,52.3 377.8,53.0 378.0,54.0 378.2,54.9 378.4,55.6 378.6,56.4 378.8,57.1 379.0,58.0 379.2,58.8 379.4,59.7 379.6,60.4 379.8,61.1 380.0,61.6 380.2,62.8 380.4,63.7 380.6,64.5 380.8,64.9 381.0,65.9 381.4,66.9 381.8,67.5 382.2,68.5 382.5,69.3 382.9,69.5 383.3,70.8 383.7,70.7 384.1,71.8 384.5,72.9 384.8,73.6 385.2,74.8 385.6,75.3 386.0,75.6 386.6,76.2 387.2,76.6 387.7,77.4 388.3,78.0 388.9,79.5 389.5,79.4 390.1,79.8 390.7,80.3 391.2,80.9 391.8,81.6 392.4,83.0 393.1,82.8 393.9,82.4 394.6,83.0 395.4,84.4 396.1,83.9 396.8,83.6 397.6,84.7 398.3,84.5 399.0,86.2 399.8,85.6 400.5,85.8 401.3,85.3 402.0,86.0 402.8,86.7 403.6,87.0 404.4,86.5 405.3,86.4 406.1,86.7 406.9,86.9 407.7,87.5 408.5,87.3 409.3,87.4 410.1,87.5 411.0,87.8 411.8,87.6 412.6,88.1 413.4,88.2 414.2,86.8 415.0,87.6 415.8,87.4 416.6,88.1 417.4,87.5 418.3,87.4 419.1,87.6 419.9,87.4 420.7,86.9 421.5,86.9 422.4,86.6 423.2,86.9 424.1,87.1 424.9,87.2 425.8,86.8 426.6,86.4 427.4,86.7 428.3,86.7 429.1,87.4 430.0,86.8 430.8,87.0 431.6,86.6 432.4,86.8 433.2,86.5 434.1,87.8 434.9,86.5 435.7,86.5 436.5,86.1 437.3,86.5 438.1,87.0 438.9,86.5 439.7,86.1 440.5,85.5 441.4,85.8 442.2,86.2 443.0,86.5 443.8,85.9 444.6,85.4 445.4,85.6 446.2,85.5 447.0,86.2 447.8,85.5 448.6,85.4 449.5,84.7 450.3,85.4 451.1,85.1 451.9,85.7 452.7,85.2 453.5,85.2 454.3,84.5 455.1,85.0 455.9,85.1 456.8,85.7 457.6,84.7 458.4,84.7 459.2,84.2 460.0,84.5 460.8,84.7 461.6,84.2 462.4,83.7 463.2,84.2 464.0,84.6 464.8,83.9 465.6,83.4 466.4,83.6 467.2,84.7 468.0,83.4 468.8,83.7 469.6,83.0 470.4,83.6 471.2,83.9 472.0,83.3 472.8,83.2 473.6,82.7 474.4,83.1 475.2,82.8 476.0,83.6 476.8,82.7 477.6,82.3 478.4,82.8 479.2,82.3 480.0,83.3 480.8,82.4 481.6,81.7 482.4,82.3 483.2,82.4 484.0,82.3 484.8,81.8 485.6,81.5 486.4,82.1 487.2,81.7 488.0,82.3 488.8,81.5 489.6,81.6 490.4,80.7 491.2,81.5 492.0,81.3 492.8,81.8" fill="none" stroke="#333" stroke-width="0.9" stroke-linejoin="round"/>
<polyline points="348.0,34.6 348.8,34.3 349.6,34.3 350.5,34.5 351.3,34.2 352.1,34.6 352.9,34.6 353.8,34.1 354.6,34.5 355.4,34.3 356.2,34.4 357.0,34.6 357.9,34.6 358.7,34.2 359.5,34.5 360.3,34.4 361.1,34.5 362.0,33.9 362.8,34.4 363.6,34.0 364.4,33.9 365.2,34.2 366.1,34.3 366.9,34.4 367.7,34.0 368.5,34.3 369.4,33.8 370.2,34.3 371.0,33.9 371.4,33.3 371.9,32.3 372.3,31.5 372.7,30.7 373.1,30.3 373.5,29.5 374.0,28.9 374.4,28.2 374.7,28.8 374.9,29.8 375.2,30.2 375.4,31.4 375.7,31.9 376.0,33.1 376.2,33.5 376.5,34.4 376.7,35.2 377.0,35.7 377.3,36.6 377.5,37.6 377.8,38.5 378.1,39.0 378.4,40.0 378.6,40.8 378.9,41.8 379.2,42.8 379.4,43.0 379.7,44.1 380.0,44.6 380.3,45.2 380.5,46.5 380.8,47.1 381.1,47.8 381.4,49.1 381.7,49.9 381.9,50.6 382.2,51.8 382.5,51.9 382.8,52.5 383.1,53.5 383.4,54.4 383.6,55.1 383.9,55.9 384.2,56.6 384.5,57.4 384.8,58.0 385.1,59.1 385.3,59.5 385.6,61.4 385.9,61.3 386.2,62.2 386.5,62.8 386.8,63.9 387.0,63.7 387.3,65.5 387.6,66.2 388.1,66.7 388.5,67.5 389.0,68.1 389.4,68.5 389.9,69.4 390.3,69.3 390.8,70.9 391.2,71.3 391.6,71.9 392.1,72.6 392.6,74.4 393.0,74.5 393.7,74.4 394.4,75.0 395.0,75.3 395.7,75.9 396.4,76.6 397.1,77.9 397.8,77.6 398.5,78.1 399.1,78.5 399.8,79.0 400.5,80.3 401.3,80.2 402.1,80.2 402.9,80.6 403.7,81.9 404.5,81.6 405.3,80.6 406.1,81.8 406.9,82.1 407.7,83.8 408.5,83.2 409.3,83.1 410.1,82.9 410.9,83.4 411.7,84.1 412.5,84.7 413.2,84.1 414.0,84.6 414.8,84.2 415.6,85.0 416.4,85.1 417.2,85.7 418.0,85.5 418.8,85.7 419.6,84.9 420.5,85.6 421.3,85.8 422.1,85.6 422.9,85.7 423.8,85.8 424.6,86.1 425.4,86.2 426.2,86.0 427.0,85.5 427.9,86.5 428.7,86.5 429.5,86.4 430.3,86.5 431.1,85.2 431.9,86.3 432.8,85.9 433.6,86.7 434.4,85.9 435.2,84.7 436.0,85.6 436.8,86.5 437.7,85.4 438.5,85.4 439.3,85.1 440.1,85.2 440.9,85.8 441.7,85.3 442.6,84.2 443.4,85.1 444.2,85.1 445.0,84.8 445.8,84.0 446.6,84.3 447.4,85.0 448.2,83.9 449.0,83.7 449.8,84.2 450.6,84.1 451.5,83.9 452.3,83.8 453.1,82.6 453.9,83.4 454.7,83.1 455.5,83.9 456.3,82.8 457.1,82.5 457.9,83.0 458.7,82.5 459.5,83.1 460.3,82.7 461.1,82.3 461.9,82.1 462.7,82.2 463.5,82.7 464.4,81.9 465.2,81.0 466.0,81.7 466.8,81.9 467.6,81.1 468.4,81.3 469.2,80.6 470.0,80.9 470.8,81.6 471.6,80.7 472.5,80.5 473.3,80.3 474.1,80.6 474.9,80.5 475.7,79.8 476.6,79.7 477.4,79.5 478.2,79.7 479.0,79.5 479.8,79.9 480.7,79.2 481.5,79.0 482.3,78.5 483.1,78.7 483.9,79.4 484.8,78.8 485.6,78.5 486.4,78.2 487.2,78.2 488.0,78.8 488.9,78.1 489.7,77.7 490.5,77.8" fill="none" stroke="#333" stroke-width="0.9" stroke-linejoin="round"/>
</g>
<g id="table">
<line x1="16.5" y1="189.5" x2="505.0" y2="189.5" stroke="#5c5c5c" stroke-width="1"/>
<line x1="116.5" y1="216.0" x2="505.0" y2="216.0" stroke="#5c5c5c" stroke-width="1"/>
<line x1="16.5" y1="244.5" x2="505.0" y2="244.5" stroke="#5c5c5c" stroke-width="1"/>
<line x1="16.5" y1="262.5" x2="505.0" y2="262.5" stroke="#5c5c5c" stroke-width="1"/>
<line x1="16.5" y1="280.5" x2="505.0" y2="280.5" stroke="#5c5c5c" stroke-width="1"/>
<line x1="16.5" y1="298.5" x2="505.0" y2="298.5" stroke="#5c5c5c" stroke-width="1"/>
<line x1="16.5" y1="316.5" x2="505.0" y2="316.5" stroke="#5c5c5c" stroke-width="1"/>
<line x1="16.5" y1="334.5" x2="505.0" y2="334.5" stroke="#5c5c5c" stroke-width="1"/>
<line x1="16.5" y1="352.5" x2="505.0" y2="352.5" stroke="#5c5c5c" stroke-width="1"/>
<line x1="16.5" y1="368.6" x2="505.0" y2="368.6" stroke="#5c5c5c" stroke-width="1"/>
<line x1="16.5" y1="189.5" x2="16.5" y2="352.5" stroke="#5c5c5c" stroke-width="1"/>
<line x1="505.0" y1="189.5" x2="505.0" y2="352.5" stroke="#5c5c5c" stroke-width="1"/>
<line x1="116.5" y1="189.5" x2="116.5" y2="352.5" stroke="#5c5c5c" stroke-width="1"/>
<line x1="329.5" y1="189.5" x2="329.5" y2="352.5" stroke="#5c5c5c" stroke-width="1"/>
<line x1="167.0" y1="244.5" x2="167.0" y2="352.5" stroke="#5c5c5c" stroke-width="1"/>
<line x1="210.5" y1="244.5" x2="210.5" y2="352.5" stroke="#5c5c5c" stroke-width="1"/>
<line x1="260.5" y1="244.5" x2="260.5" y2="352.5" stroke="#5c5c5c" stroke-width="1"/>
<line x1="380.0" y1="244.5" x2="380.0" y2="352.5" stroke="#5c5c5c" stroke-width="1"/>
<line x1="411.0" y1="244.5" x2="411.0" y2="352.5" stroke="#5c5c5c" stroke-width="1"/>
<line x1="442.5" y1="244.5" x2="442.5" y2="352.5" stroke="#5c5c5c" stroke-width="1"/>
<text x="66.40" y="221.50" font-size="12.4" stroke="#111" stroke-width="0.5" font-weight="bold" text-anchor="middle" textLength="43.40" lengthAdjust="spacingAndGlyphs">Agonist</text>
<text x="223.15" y="207.00" font-size="10.7" stroke="#111" stroke-width="0.35" font-weight="bold" text-anchor="middle" textLength="119.30" lengthAdjust="spacingAndGlyphs">% Maximal aggregation</text>
<text x="365.8" y="207.1" font-size="10.7" font-weight="bold" fill="#111" stroke="#111" stroke-width="0.35" textLength="103.3" lengthAdjust="spacingAndGlyphs">% <tspan font-size="6.3" dy="-5.2">14</tspan><tspan dy="5.2">C-5-HT secretion</tspan></text>
<text x="141.70" y="234.30" font-size="10" stroke="#111" stroke-width="0.35" font-weight="bold" text-anchor="middle" textLength="35.20" lengthAdjust="spacingAndGlyphs">Normal</text>
<text x="188.60" y="234.30" font-size="10" stroke="#111" stroke-width="0.35" font-weight="bold" text-anchor="middle" textLength="18.20" lengthAdjust="spacingAndGlyphs">PFD</text>
<text x="235.65" y="234.30" font-size="10" stroke="#111" stroke-width="0.35" font-weight="bold" text-anchor="middle" textLength="18.90" lengthAdjust="spacingAndGlyphs">ASA</text>
<text x="354.95" y="234.30" font-size="10" stroke="#111" stroke-width="0.35" font-weight="bold" text-anchor="middle" textLength="33.90" lengthAdjust="spacingAndGlyphs">Normal</text>
<text x="395.90" y="234.30" font-size="10" stroke="#111" stroke-width="0.35" font-weight="bold" text-anchor="middle" textLength="17.60" lengthAdjust="spacingAndGlyphs">PFD</text>
<text x="426.80" y="234.30" font-size="10" stroke="#111" stroke-width="0.35" font-weight="bold" text-anchor="middle" textLength="18.00" lengthAdjust="spacingAndGlyphs">ASA</text>
<text x="295.15" y="227.50" font-size="10" stroke="#111" stroke-width="0.35" font-weight="bold" text-anchor="middle" textLength="46.70" lengthAdjust="spacingAndGlyphs">Reference</text>
<text x="294.80" y="240.90" font-size="10" stroke="#111" stroke-width="0.35" font-weight="bold" text-anchor="middle" textLength="28.80" lengthAdjust="spacingAndGlyphs">Range</text>
<text x="474.05" y="227.50" font-size="10" stroke="#111" stroke-width="0.35" font-weight="bold" text-anchor="middle" textLength="47.10" lengthAdjust="spacingAndGlyphs">Reference</text>
<text x="474.20" y="240.90" font-size="10" stroke="#111" stroke-width="0.35" font-weight="bold" text-anchor="middle" textLength="28.60" lengthAdjust="spacingAndGlyphs">Range</text>
<text x="21.80" y="258.00" font-size="10" stroke="#111" stroke-width="0.35" textLength="85.50" lengthAdjust="spacingAndGlyphs">Epinephrine 10µM</text>
<text x="141.75" y="258.00" font-size="10" stroke="#111" stroke-width="0.35" text-anchor="middle" textLength="11.16" lengthAdjust="spacingAndGlyphs">74</text>
<text x="188.75" y="258.00" font-size="10" stroke="#111" stroke-width="0.35" text-anchor="middle" textLength="5.58" lengthAdjust="spacingAndGlyphs">4</text>
<text x="235.50" y="258.00" font-size="10" stroke="#111" stroke-width="0.35" text-anchor="middle" textLength="11.16" lengthAdjust="spacingAndGlyphs">17</text>
<text x="295.00" y="258.00" font-size="10" stroke="#111" stroke-width="0.35" text-anchor="middle" textLength="25.08" lengthAdjust="spacingAndGlyphs">8 - 87</text>
<text x="354.75" y="258.00" font-size="10" stroke="#111" stroke-width="0.35" text-anchor="middle" textLength="11.16" lengthAdjust="spacingAndGlyphs">45</text>
<text x="395.50" y="258.00" font-size="10" stroke="#111" stroke-width="0.35" text-anchor="middle" textLength="5.58" lengthAdjust="spacingAndGlyphs">0</text>
<text x="426.75" y="258.00" font-size="10" stroke="#111" stroke-width="0.35" text-anchor="middle" textLength="5.58" lengthAdjust="spacingAndGlyphs">0</text>
<text x="473.75" y="258.00" font-size="10" stroke="#111" stroke-width="0.35" text-anchor="middle" textLength="25.08" lengthAdjust="spacingAndGlyphs">0 - 58</text>
<text x="21.80" y="276.00" font-size="10" stroke="#111" stroke-width="0.35" textLength="43.50" lengthAdjust="spacingAndGlyphs">ADP 4µM</text>
<text x="141.75" y="276.00" font-size="10" stroke="#111" stroke-width="0.35" text-anchor="middle" textLength="11.16" lengthAdjust="spacingAndGlyphs">66</text>
<text x="188.75" y="276.00" font-size="10" stroke="#111" stroke-width="0.35" text-anchor="middle" textLength="32.56" lengthAdjust="spacingAndGlyphs">33 (RA)</text>
<text x="235.50" y="276.00" font-size="10" stroke="#111" stroke-width="0.35" text-anchor="middle" textLength="32.56" lengthAdjust="spacingAndGlyphs">50 (RA)</text>
<text x="295.00" y="276.00" font-size="10" stroke="#111" stroke-width="0.35" text-anchor="middle" textLength="30.66" lengthAdjust="spacingAndGlyphs">34 - 88</text>
<text x="354.75" y="276.00" font-size="10" stroke="#111" stroke-width="0.35" text-anchor="middle" textLength="11.16" lengthAdjust="spacingAndGlyphs">31</text>
<text x="395.50" y="276.00" font-size="10" stroke="#111" stroke-width="0.35" text-anchor="middle" textLength="5.58" lengthAdjust="spacingAndGlyphs">0</text>
<text x="426.75" y="276.00" font-size="10" stroke="#111" stroke-width="0.35" text-anchor="middle" textLength="5.58" lengthAdjust="spacingAndGlyphs">0</text>
<text x="473.75" y="276.00" font-size="10" stroke="#111" stroke-width="0.35" text-anchor="middle" textLength="25.08" lengthAdjust="spacingAndGlyphs">4 - 51</text>
<text x="21.80" y="294.00" font-size="10" stroke="#111" stroke-width="0.35" textLength="43.50" lengthAdjust="spacingAndGlyphs">ADP 8µM</text>
<text x="141.75" y="294.00" font-size="10" stroke="#111" stroke-width="0.35" text-anchor="middle" textLength="11.16" lengthAdjust="spacingAndGlyphs">76</text>
<text x="188.75" y="294.00" font-size="10" stroke="#111" stroke-width="0.35" text-anchor="middle" textLength="29.79" lengthAdjust="spacingAndGlyphs">57 (DI)</text>
<text x="235.50" y="294.00" font-size="10" stroke="#111" stroke-width="0.35" text-anchor="middle" textLength="32.56" lengthAdjust="spacingAndGlyphs">50 (RA)</text>
<text x="295.00" y="294.00" font-size="10" stroke="#111" stroke-width="0.35" text-anchor="middle" textLength="30.66" lengthAdjust="spacingAndGlyphs">58 - 90</text>
<text x="354.75" y="294.00" font-size="10" stroke="#111" stroke-width="0.35" text-anchor="middle" textLength="11.16" lengthAdjust="spacingAndGlyphs">39</text>
<text x="395.50" y="294.00" font-size="10" stroke="#111" stroke-width="0.35" text-anchor="middle" textLength="11.16" lengthAdjust="spacingAndGlyphs">10</text>
<text x="426.75" y="294.00" font-size="10" stroke="#111" stroke-width="0.35" text-anchor="middle" textLength="5.58" lengthAdjust="spacingAndGlyphs">0</text>
<text x="473.75" y="294.00" font-size="10" stroke="#111" stroke-width="0.35" text-anchor="middle" textLength="30.66" lengthAdjust="spacingAndGlyphs">14 - 53</text>
<text x="21.80" y="312.00" font-size="10" stroke="#111" stroke-width="0.35" textLength="78.90" lengthAdjust="spacingAndGlyphs">Collagen 1µg/mL</text>
<text x="141.75" y="312.00" font-size="10" stroke="#111" stroke-width="0.35" text-anchor="middle" textLength="11.16" lengthAdjust="spacingAndGlyphs">73</text>
<text x="188.75" y="312.00" font-size="10" stroke="#111" stroke-width="0.35" text-anchor="middle" textLength="32.56" lengthAdjust="spacingAndGlyphs">42 (RA)</text>
<text x="235.50" y="312.00" font-size="10" stroke="#111" stroke-width="0.35" text-anchor="middle" textLength="25.57" lengthAdjust="spacingAndGlyphs">1 (SC)</text>
<text x="295.00" y="312.00" font-size="10" stroke="#111" stroke-width="0.35" text-anchor="middle" textLength="30.66" lengthAdjust="spacingAndGlyphs">65 - 89</text>
<text x="354.75" y="312.00" font-size="10" stroke="#111" stroke-width="0.35" text-anchor="middle" textLength="11.16" lengthAdjust="spacingAndGlyphs">26</text>
<text x="395.50" y="312.00" font-size="10" stroke="#111" stroke-width="0.35" text-anchor="middle" textLength="5.58" lengthAdjust="spacingAndGlyphs">4</text>
<text x="426.75" y="312.00" font-size="10" stroke="#111" stroke-width="0.35" text-anchor="middle" textLength="5.58" lengthAdjust="spacingAndGlyphs">5</text>
<text x="473.75" y="312.00" font-size="10" stroke="#111" stroke-width="0.35" text-anchor="middle" textLength="30.66" lengthAdjust="spacingAndGlyphs">24 - 58</text>
<text x="21.80" y="330.00" font-size="10" stroke="#111" stroke-width="0.35" textLength="78.90" lengthAdjust="spacingAndGlyphs">Collagen 2µg/mL</text>
<text x="141.75" y="330.00" font-size="10" stroke="#111" stroke-width="0.35" text-anchor="middle" textLength="11.16" lengthAdjust="spacingAndGlyphs">73</text>
<text x="188.75" y="330.00" font-size="10" stroke="#111" stroke-width="0.35" text-anchor="middle" textLength="11.16" lengthAdjust="spacingAndGlyphs">64</text>
<text x="235.50" y="330.00" font-size="10" stroke="#111" stroke-width="0.35" text-anchor="middle" textLength="25.57" lengthAdjust="spacingAndGlyphs">1 (SC)</text>
<text x="295.00" y="330.00" font-size="10" stroke="#111" stroke-width="0.35" text-anchor="middle" textLength="30.66" lengthAdjust="spacingAndGlyphs">68 - 89</text>
<text x="354.75" y="330.00" font-size="10" stroke="#111" stroke-width="0.35" text-anchor="middle" textLength="11.16" lengthAdjust="spacingAndGlyphs">37</text>
<text x="395.50" y="330.00" font-size="10" stroke="#111" stroke-width="0.35" text-anchor="middle" textLength="11.16" lengthAdjust="spacingAndGlyphs">24</text>
<text x="426.75" y="330.00" font-size="10" stroke="#111" stroke-width="0.35" text-anchor="middle" textLength="11.16" lengthAdjust="spacingAndGlyphs">10</text>
<text x="473.75" y="330.00" font-size="10" stroke="#111" stroke-width="0.35" text-anchor="middle" textLength="30.66" lengthAdjust="spacingAndGlyphs">30 - 66</text>
<text x="21.80" y="348.00" font-size="10" stroke="#111" stroke-width="0.35" textLength="89.50" lengthAdjust="spacingAndGlyphs">Arachidonate 1mM</text>
<text x="141.75" y="348.00" font-size="10" stroke="#111" stroke-width="0.35" text-anchor="middle" textLength="11.16" lengthAdjust="spacingAndGlyphs">77</text>
<text x="188.75" y="348.00" font-size="10" stroke="#111" stroke-width="0.35" text-anchor="middle" textLength="11.16" lengthAdjust="spacingAndGlyphs">85</text>
<text x="235.50" y="348.00" font-size="10" stroke="#111" stroke-width="0.35" text-anchor="middle" textLength="5.58" lengthAdjust="spacingAndGlyphs">0</text>
<text x="295.00" y="348.00" font-size="10" stroke="#111" stroke-width="0.35" text-anchor="middle" textLength="30.66" lengthAdjust="spacingAndGlyphs">69 - 91</text>
<text x="354.75" y="348.00" font-size="10" stroke="#111" stroke-width="0.35" text-anchor="middle" textLength="11.16" lengthAdjust="spacingAndGlyphs">28</text>
<text x="395.50" y="348.00" font-size="10" stroke="#111" stroke-width="0.35" text-anchor="middle" textLength="11.16" lengthAdjust="spacingAndGlyphs">28</text>
<text x="426.75" y="348.00" font-size="10" stroke="#111" stroke-width="0.35" text-anchor="middle" textLength="5.58" lengthAdjust="spacingAndGlyphs">0</text>
<text x="473.75" y="348.00" font-size="10" stroke="#111" stroke-width="0.35" text-anchor="middle" textLength="30.66" lengthAdjust="spacingAndGlyphs">18 - 53</text>
<text x="21.80" y="365.00" font-size="10" stroke="#111" stroke-width="0.35" textLength="113.20" lengthAdjust="spacingAndGlyphs">RA: reversible aggregation;</text>
<text x="139.70" y="365.00" font-size="10" stroke="#111" stroke-width="0.35" textLength="174.30" lengthAdjust="spacingAndGlyphs">DI: delayed initiation or decreased slope;</text>
<text x="321.25" y="365.00" font-size="10" stroke="#111" stroke-width="0.35" textLength="95.00" lengthAdjust="spacingAndGlyphs">SC: shape change only</text>
</g>
</g>
</svg>
</body></html>
